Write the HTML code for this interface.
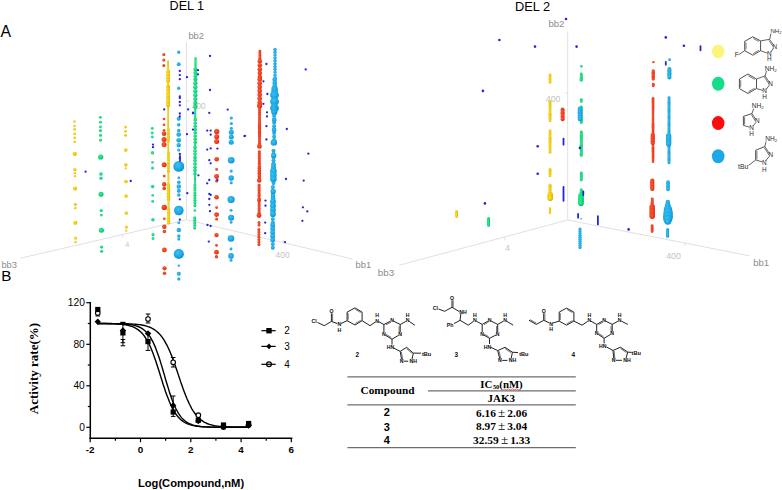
<!DOCTYPE html>
<html><head><meta charset="utf-8"><style>
html,body{margin:0;padding:0;background:#fff;width:782px;height:490px;overflow:hidden}
svg{display:block}
</style></head><body>
<svg width="782" height="490" viewBox="0 0 782 490">
<defs>
<radialGradient id="gY" cx="0.4" cy="0.38" r="0.65"><stop offset="0" stop-color="#ffe41c"/><stop offset="0.6" stop-color="#f2c800"/><stop offset="1" stop-color="#cfa200"/></radialGradient>
<radialGradient id="gG" cx="0.4" cy="0.38" r="0.65"><stop offset="0" stop-color="#34f09a"/><stop offset="0.6" stop-color="#10d97a"/><stop offset="1" stop-color="#08b862"/></radialGradient>
<radialGradient id="gR" cx="0.4" cy="0.38" r="0.65"><stop offset="0" stop-color="#ff5a36"/><stop offset="0.6" stop-color="#f03c1c"/><stop offset="1" stop-color="#d02c10"/></radialGradient>
<radialGradient id="gC" cx="0.42" cy="0.38" r="0.62"><stop offset="0" stop-color="#40bff0"/><stop offset="0.65" stop-color="#18a9e4"/><stop offset="1" stop-color="#0e90cc"/></radialGradient>
</defs>
<rect width="782" height="490" fill="#fff"/>
<text x="169.6" y="10.3" font-family="&quot;Liberation Sans&quot;, sans-serif" font-size="12.6" fill="#000" text-anchor="start" font-weight="normal" >DEL 1</text>
<text x="515" y="10.8" font-family="&quot;Liberation Sans&quot;, sans-serif" font-size="12.8" fill="#000" text-anchor="start" font-weight="normal" >DEL 2</text>
<text x="0.6" y="36.6" font-family="&quot;Liberation Sans&quot;, sans-serif" font-size="15.8" fill="#000" text-anchor="start" font-weight="normal" >A</text>
<text x="1.2" y="280.8" font-family="&quot;Liberation Sans&quot;, sans-serif" font-size="15.2" fill="#000" text-anchor="start" font-weight="normal" >B</text>
<text x="188.4" y="38.6" font-family="&quot;Liberation Sans&quot;, sans-serif" font-size="9.4" fill="#8c8c8c" text-anchor="start" font-weight="normal" >bb2</text>
<text x="1.4" y="267.6" font-family="&quot;Liberation Sans&quot;, sans-serif" font-size="9.4" fill="#8c8c8c" text-anchor="start" font-weight="normal" >bb3</text>
<text x="355.6" y="268.4" font-family="&quot;Liberation Sans&quot;, sans-serif" font-size="9.4" fill="#8c8c8c" text-anchor="start" font-weight="normal" >bb1</text>
<text x="125.2" y="247.3" font-family="&quot;Liberation Sans&quot;, sans-serif" font-size="7.2" fill="#c4c4c4" text-anchor="start" font-weight="normal" >4</text>
<text x="275.6" y="257.6" font-family="&quot;Liberation Sans&quot;, sans-serif" font-size="8.4" fill="#c4c4c4" text-anchor="start" font-weight="normal" >400</text>
<text x="191.8" y="109.2" font-family="&quot;Liberation Sans&quot;, sans-serif" font-size="8.4" fill="#c4c4c4" text-anchor="start" font-weight="normal" >400</text>
<text x="548.4" y="26.8" font-family="&quot;Liberation Sans&quot;, sans-serif" font-size="9.6" fill="#8c8c8c" text-anchor="start" font-weight="normal" >bb2</text>
<text x="377.8" y="275.9" font-family="&quot;Liberation Sans&quot;, sans-serif" font-size="9.9" fill="#8c8c8c" text-anchor="start" font-weight="normal" >bb3</text>
<text x="753.2" y="266.4" font-family="&quot;Liberation Sans&quot;, sans-serif" font-size="9.6" fill="#8c8c8c" text-anchor="start" font-weight="normal" >bb1</text>
<text x="505.2" y="251.3" font-family="&quot;Liberation Sans&quot;, sans-serif" font-size="8.2" fill="#c4c4c4" text-anchor="start" font-weight="normal" >4</text>
<text x="666.2" y="258.6" font-family="&quot;Liberation Sans&quot;, sans-serif" font-size="8.8" fill="#c4c4c4" text-anchor="start" font-weight="normal" >400</text>
<text x="545.8" y="102" font-family="&quot;Liberation Sans&quot;, sans-serif" font-size="8.8" fill="#c4c4c4" text-anchor="start" font-weight="normal" >400</text>
<line x1="186.5" y1="42.4" x2="186.5" y2="219.8" stroke="#e0e0e0" stroke-width="1"/>
<line x1="186.5" y1="219.8" x2="20.4" y2="258.2" stroke="#e0e0e0" stroke-width="1"/>
<line x1="186.5" y1="219.8" x2="352.6" y2="259" stroke="#e0e0e0" stroke-width="1"/>
<line x1="122.5" y1="234" x2="122.5" y2="237.5" stroke="#e0e0e0" stroke-width="1"/>
<line x1="283" y1="240" x2="283" y2="243.5" stroke="#e0e0e0" stroke-width="1"/>
<line x1="186.5" y1="101" x2="189.5" y2="101" stroke="#e0e0e0" stroke-width="1"/>
<line x1="567.7" y1="31.4" x2="567.7" y2="220" stroke="#e0e0e0" stroke-width="1"/>
<line x1="567.7" y1="220" x2="399.2" y2="265.2" stroke="#e0e0e0" stroke-width="1"/>
<line x1="567.7" y1="220" x2="749" y2="255.7" stroke="#e0e0e0" stroke-width="1"/>
<line x1="504.9" y1="237" x2="504.9" y2="240.5" stroke="#e0e0e0" stroke-width="1"/>
<line x1="684.9" y1="242.5" x2="684.9" y2="246" stroke="#e0e0e0" stroke-width="1"/>
<line x1="564.7" y1="93" x2="567.7" y2="93" stroke="#e0e0e0" stroke-width="1"/>
<circle cx="74.4" cy="121.4" r="1.20" fill="url(#gY)"/>
<circle cx="74.4" cy="126.0" r="1.20" fill="url(#gY)"/>
<circle cx="74.5" cy="129.3" r="1.30" fill="url(#gY)"/>
<circle cx="74.5" cy="133.7" r="1.30" fill="url(#gY)"/>
<circle cx="74.6" cy="137.8" r="1.30" fill="url(#gY)"/>
<circle cx="74.6" cy="141.8" r="1.20" fill="url(#gY)"/>
<circle cx="74.7" cy="153.8" r="2.10" fill="url(#gY)"/>
<circle cx="74.8" cy="169.6" r="1.70" fill="url(#gY)"/>
<circle cx="74.9" cy="172.9" r="1.20" fill="url(#gY)"/>
<circle cx="74.9" cy="176.1" r="1.20" fill="url(#gY)"/>
<circle cx="75.0" cy="188.5" r="2.00" fill="url(#gY)"/>
<circle cx="75.2" cy="204.2" r="1.50" fill="url(#gY)"/>
<circle cx="75.2" cy="208.0" r="1.20" fill="url(#gY)"/>
<circle cx="75.3" cy="222.8" r="2.00" fill="url(#gY)"/>
<circle cx="75.5" cy="238.0" r="1.50" fill="url(#gY)"/>
<circle cx="75.5" cy="242.0" r="1.20" fill="url(#gY)"/>
<circle cx="100.3" cy="117.3" r="1.40" fill="url(#gG)"/>
<circle cx="100.4" cy="122.2" r="1.40" fill="url(#gG)"/>
<circle cx="100.4" cy="126.8" r="1.40" fill="url(#gG)"/>
<circle cx="100.4" cy="130.4" r="1.50" fill="url(#gG)"/>
<circle cx="100.5" cy="135.3" r="1.50" fill="url(#gG)"/>
<circle cx="100.5" cy="139.9" r="1.50" fill="url(#gG)"/>
<circle cx="100.7" cy="157.0" r="2.60" fill="url(#gG)"/>
<circle cx="100.9" cy="174.0" r="1.80" fill="url(#gG)"/>
<circle cx="100.9" cy="178.2" r="1.60" fill="url(#gG)"/>
<circle cx="101.0" cy="194.2" r="2.50" fill="url(#gG)"/>
<circle cx="101.2" cy="210.5" r="1.60" fill="url(#gG)"/>
<circle cx="101.3" cy="215.1" r="1.40" fill="url(#gG)"/>
<circle cx="101.4" cy="230.3" r="2.50" fill="url(#gG)"/>
<circle cx="101.6" cy="247.0" r="1.60" fill="url(#gG)"/>
<circle cx="101.6" cy="251.2" r="1.50" fill="url(#gG)"/>
<circle cx="125.5" cy="127.1" r="1.30" fill="url(#gY)"/>
<circle cx="125.5" cy="131.2" r="1.30" fill="url(#gY)"/>
<circle cx="125.6" cy="135.3" r="1.40" fill="url(#gY)"/>
<circle cx="125.7" cy="150.0" r="1.80" fill="url(#gY)"/>
<circle cx="125.8" cy="164.7" r="1.70" fill="url(#gY)"/>
<circle cx="125.8" cy="168.3" r="1.10" fill="url(#gY)"/>
<circle cx="125.9" cy="181.5" r="1.80" fill="url(#gY)"/>
<circle cx="126.0" cy="196.0" r="1.70" fill="url(#gY)"/>
<circle cx="126.2" cy="213.0" r="1.70" fill="url(#gY)"/>
<circle cx="126.3" cy="227.0" r="1.50" fill="url(#gY)"/>
<circle cx="126.3" cy="230.6" r="1.10" fill="url(#gY)"/>
<circle cx="152.2" cy="128.3" r="1.40" fill="url(#gG)"/>
<circle cx="152.2" cy="132.9" r="1.40" fill="url(#gG)"/>
<circle cx="152.3" cy="136.9" r="1.40" fill="url(#gG)"/>
<circle cx="152.4" cy="152.8" r="1.70" fill="url(#gG)"/>
<circle cx="152.4" cy="162.2" r="1.20" fill="url(#gG)"/>
<circle cx="152.5" cy="168.0" r="1.50" fill="url(#gG)"/>
<circle cx="152.6" cy="186.5" r="1.70" fill="url(#gG)"/>
<circle cx="152.7" cy="195.2" r="1.30" fill="url(#gG)"/>
<circle cx="152.7" cy="201.3" r="1.40" fill="url(#gG)"/>
<circle cx="152.9" cy="219.7" r="1.70" fill="url(#gG)"/>
<circle cx="153.0" cy="234.4" r="1.50" fill="url(#gG)"/>
<circle cx="153.0" cy="238.5" r="1.40" fill="url(#gG)"/>
<circle cx="163.8" cy="54.4" r="1.50" fill="url(#gR)"/>
<circle cx="163.8" cy="59.9" r="1.50" fill="url(#gR)"/>
<circle cx="163.8" cy="65.6" r="1.50" fill="url(#gR)"/>
<circle cx="164.0" cy="119.0" r="1.30" fill="url(#gR)"/>
<circle cx="164.0" cy="124.7" r="1.30" fill="url(#gR)"/>
<circle cx="164.0" cy="130.4" r="1.40" fill="url(#gR)"/>
<circle cx="164.1" cy="133.7" r="2.30" fill="url(#gR)"/>
<circle cx="164.1" cy="139.4" r="2.50" fill="url(#gR)"/>
<circle cx="164.1" cy="144.6" r="2.50" fill="url(#gR)"/>
<circle cx="164.2" cy="164.7" r="2.50" fill="url(#gR)"/>
<circle cx="164.2" cy="176.1" r="1.40" fill="url(#gR)"/>
<circle cx="164.2" cy="184.3" r="2.20" fill="url(#gR)"/>
<circle cx="164.2" cy="188.4" r="1.80" fill="url(#gR)"/>
<circle cx="164.3" cy="207.4" r="2.70" fill="url(#gR)"/>
<circle cx="164.3" cy="218.7" r="1.30" fill="url(#gR)"/>
<circle cx="164.3" cy="226.8" r="2.20" fill="url(#gR)"/>
<circle cx="164.4" cy="231.5" r="1.70" fill="url(#gR)"/>
<circle cx="164.4" cy="249.9" r="2.40" fill="url(#gR)"/>
<circle cx="164.5" cy="268.3" r="2.10" fill="url(#gR)"/>
<circle cx="164.5" cy="273.2" r="1.70" fill="url(#gR)"/>
<circle cx="168.0" cy="61.2" r="0.90" fill="url(#gY)"/>
<circle cx="168.0" cy="62.3" r="0.90" fill="url(#gY)"/>
<circle cx="168.0" cy="63.3" r="0.90" fill="url(#gY)"/>
<circle cx="168.0" cy="64.4" r="0.90" fill="url(#gY)"/>
<circle cx="168.0" cy="65.4" r="0.90" fill="url(#gY)"/>
<circle cx="168.0" cy="66.5" r="0.90" fill="url(#gY)"/>
<circle cx="168.0" cy="67.6" r="0.90" fill="url(#gY)"/>
<circle cx="168.0" cy="68.6" r="0.90" fill="url(#gY)"/>
<circle cx="168.0" cy="69.7" r="0.90" fill="url(#gY)"/>
<circle cx="168.0" cy="70.7" r="0.90" fill="url(#gY)"/>
<circle cx="168.0" cy="71.8" r="0.90" fill="url(#gY)"/>
<circle cx="168.1" cy="71.8" r="2.00" fill="url(#gY)"/>
<circle cx="168.1" cy="74.8" r="2.00" fill="url(#gY)"/>
<circle cx="168.1" cy="77.8" r="2.00" fill="url(#gY)"/>
<circle cx="168.1" cy="80.8" r="2.00" fill="url(#gY)"/>
<circle cx="168.1" cy="80.8" r="0.90" fill="url(#gY)"/>
<circle cx="168.1" cy="81.8" r="0.90" fill="url(#gY)"/>
<circle cx="168.1" cy="82.7" r="0.90" fill="url(#gY)"/>
<circle cx="168.1" cy="83.7" r="0.90" fill="url(#gY)"/>
<circle cx="168.1" cy="84.6" r="0.90" fill="url(#gY)"/>
<circle cx="168.1" cy="85.5" r="0.90" fill="url(#gY)"/>
<circle cx="168.1" cy="86.5" r="0.90" fill="url(#gY)"/>
<circle cx="168.1" cy="86.5" r="2.00" fill="url(#gY)"/>
<circle cx="168.1" cy="89.6" r="2.00" fill="url(#gY)"/>
<circle cx="168.1" cy="92.8" r="2.00" fill="url(#gY)"/>
<circle cx="168.1" cy="95.9" r="2.00" fill="url(#gY)"/>
<circle cx="168.1" cy="99.0" r="2.00" fill="url(#gY)"/>
<circle cx="168.1" cy="102.2" r="2.00" fill="url(#gY)"/>
<circle cx="168.1" cy="105.3" r="2.00" fill="url(#gY)"/>
<circle cx="168.2" cy="105.3" r="0.90" fill="url(#gY)"/>
<circle cx="168.2" cy="106.4" r="0.90" fill="url(#gY)"/>
<circle cx="168.2" cy="107.4" r="0.90" fill="url(#gY)"/>
<circle cx="168.2" cy="108.5" r="0.90" fill="url(#gY)"/>
<circle cx="168.2" cy="109.5" r="0.90" fill="url(#gY)"/>
<circle cx="168.2" cy="110.6" r="0.90" fill="url(#gY)"/>
<circle cx="168.2" cy="111.6" r="0.90" fill="url(#gY)"/>
<circle cx="168.2" cy="112.7" r="0.90" fill="url(#gY)"/>
<circle cx="168.2" cy="113.8" r="0.90" fill="url(#gY)"/>
<circle cx="168.2" cy="114.8" r="0.90" fill="url(#gY)"/>
<circle cx="168.2" cy="115.9" r="0.90" fill="url(#gY)"/>
<circle cx="168.2" cy="116.9" r="0.90" fill="url(#gY)"/>
<circle cx="168.2" cy="118.0" r="0.90" fill="url(#gY)"/>
<circle cx="168.2" cy="119.0" r="0.90" fill="url(#gY)"/>
<circle cx="168.2" cy="120.1" r="0.90" fill="url(#gY)"/>
<circle cx="168.2" cy="121.1" r="0.90" fill="url(#gY)"/>
<circle cx="168.2" cy="122.2" r="0.90" fill="url(#gY)"/>
<circle cx="168.2" cy="123.3" r="0.90" fill="url(#gY)"/>
<circle cx="168.2" cy="124.3" r="0.90" fill="url(#gY)"/>
<circle cx="168.2" cy="125.4" r="0.90" fill="url(#gY)"/>
<circle cx="168.2" cy="126.4" r="0.90" fill="url(#gY)"/>
<circle cx="168.2" cy="127.5" r="0.90" fill="url(#gY)"/>
<circle cx="168.2" cy="128.5" r="0.90" fill="url(#gY)"/>
<circle cx="168.2" cy="129.6" r="0.90" fill="url(#gY)"/>
<circle cx="168.3" cy="129.6" r="1.50" fill="url(#gY)"/>
<circle cx="168.3" cy="131.9" r="1.50" fill="url(#gY)"/>
<circle cx="168.3" cy="134.2" r="1.50" fill="url(#gY)"/>
<circle cx="168.3" cy="136.4" r="1.50" fill="url(#gY)"/>
<circle cx="168.3" cy="138.7" r="1.50" fill="url(#gY)"/>
<circle cx="168.3" cy="141.0" r="1.50" fill="url(#gY)"/>
<circle cx="168.3" cy="141.0" r="0.90" fill="url(#gY)"/>
<circle cx="168.3" cy="142.0" r="0.90" fill="url(#gY)"/>
<circle cx="168.3" cy="143.1" r="0.90" fill="url(#gY)"/>
<circle cx="168.3" cy="144.1" r="0.90" fill="url(#gY)"/>
<circle cx="168.3" cy="145.1" r="0.90" fill="url(#gY)"/>
<circle cx="168.3" cy="146.2" r="0.90" fill="url(#gY)"/>
<circle cx="168.3" cy="147.2" r="0.90" fill="url(#gY)"/>
<circle cx="168.3" cy="148.3" r="0.90" fill="url(#gY)"/>
<circle cx="168.3" cy="149.3" r="0.90" fill="url(#gY)"/>
<circle cx="168.3" cy="150.3" r="0.90" fill="url(#gY)"/>
<circle cx="168.3" cy="151.4" r="0.90" fill="url(#gY)"/>
<circle cx="168.3" cy="152.4" r="0.90" fill="url(#gY)"/>
<circle cx="168.4" cy="152.4" r="1.50" fill="url(#gY)"/>
<circle cx="168.4" cy="155.0" r="1.50" fill="url(#gY)"/>
<circle cx="168.4" cy="157.5" r="1.50" fill="url(#gY)"/>
<circle cx="168.4" cy="160.1" r="1.50" fill="url(#gY)"/>
<circle cx="168.4" cy="162.7" r="1.50" fill="url(#gY)"/>
<circle cx="168.4" cy="165.3" r="1.50" fill="url(#gY)"/>
<circle cx="168.4" cy="167.8" r="1.50" fill="url(#gY)"/>
<circle cx="168.4" cy="170.4" r="1.50" fill="url(#gY)"/>
<circle cx="168.4" cy="170.4" r="0.90" fill="url(#gY)"/>
<circle cx="168.4" cy="171.4" r="0.90" fill="url(#gY)"/>
<circle cx="168.4" cy="172.5" r="0.90" fill="url(#gY)"/>
<circle cx="168.4" cy="173.5" r="0.90" fill="url(#gY)"/>
<circle cx="168.4" cy="174.6" r="0.90" fill="url(#gY)"/>
<circle cx="168.4" cy="175.6" r="0.90" fill="url(#gY)"/>
<circle cx="168.4" cy="176.7" r="0.90" fill="url(#gY)"/>
<circle cx="168.4" cy="177.7" r="0.90" fill="url(#gY)"/>
<circle cx="168.4" cy="178.7" r="0.90" fill="url(#gY)"/>
<circle cx="168.4" cy="179.8" r="0.90" fill="url(#gY)"/>
<circle cx="168.4" cy="180.8" r="0.90" fill="url(#gY)"/>
<circle cx="168.4" cy="181.9" r="0.90" fill="url(#gY)"/>
<circle cx="168.4" cy="182.9" r="0.90" fill="url(#gY)"/>
<circle cx="168.4" cy="184.0" r="0.90" fill="url(#gY)"/>
<circle cx="168.4" cy="185.0" r="0.90" fill="url(#gY)"/>
<circle cx="168.5" cy="185.0" r="1.80" fill="url(#gY)"/>
<circle cx="168.5" cy="187.8" r="1.80" fill="url(#gY)"/>
<circle cx="168.5" cy="190.6" r="1.80" fill="url(#gY)"/>
<circle cx="168.5" cy="193.4" r="1.80" fill="url(#gY)"/>
<circle cx="168.5" cy="196.2" r="1.80" fill="url(#gY)"/>
<circle cx="168.5" cy="199.0" r="1.80" fill="url(#gY)"/>
<circle cx="168.5" cy="199.0" r="0.90" fill="url(#gY)"/>
<circle cx="168.5" cy="200.0" r="0.90" fill="url(#gY)"/>
<circle cx="168.5" cy="201.0" r="0.90" fill="url(#gY)"/>
<circle cx="168.5" cy="202.0" r="0.90" fill="url(#gY)"/>
<circle cx="168.5" cy="203.0" r="0.90" fill="url(#gY)"/>
<circle cx="168.5" cy="204.0" r="0.90" fill="url(#gY)"/>
<circle cx="168.5" cy="205.0" r="0.90" fill="url(#gY)"/>
<circle cx="168.5" cy="206.0" r="0.90" fill="url(#gY)"/>
<circle cx="168.5" cy="207.0" r="0.90" fill="url(#gY)"/>
<circle cx="168.5" cy="208.0" r="0.90" fill="url(#gY)"/>
<circle cx="168.5" cy="209.0" r="0.90" fill="url(#gY)"/>
<circle cx="168.5" cy="210.0" r="0.90" fill="url(#gY)"/>
<circle cx="168.6" cy="210.0" r="1.70" fill="url(#gY)"/>
<circle cx="168.6" cy="212.6" r="1.70" fill="url(#gY)"/>
<circle cx="168.6" cy="215.1" r="1.70" fill="url(#gY)"/>
<circle cx="168.6" cy="217.7" r="1.70" fill="url(#gY)"/>
<circle cx="168.6" cy="220.2" r="1.70" fill="url(#gY)"/>
<circle cx="168.6" cy="222.8" r="1.70" fill="url(#gY)"/>
<circle cx="178.7" cy="52.2" r="1.60" fill="url(#gC)"/>
<circle cx="178.7" cy="64.2" r="1.90" fill="url(#gC)"/>
<circle cx="178.7" cy="88.2" r="1.60" fill="url(#gC)"/>
<circle cx="178.7" cy="118.7" r="2.00" fill="url(#gC)"/>
<circle cx="178.7" cy="124.7" r="1.70" fill="url(#gC)"/>
<circle cx="178.7" cy="130.4" r="1.70" fill="url(#gC)"/>
<circle cx="178.7" cy="134.5" r="2.30" fill="url(#gC)"/>
<circle cx="178.7" cy="140.2" r="2.30" fill="url(#gC)"/>
<circle cx="178.7" cy="145.1" r="2.20" fill="url(#gC)"/>
<circle cx="178.7" cy="150.0" r="1.50" fill="url(#gC)"/>
<circle cx="178.8" cy="166.4" r="5.45" fill="url(#gC)"/>
<circle cx="178.8" cy="177.8" r="1.40" fill="url(#gC)"/>
<circle cx="178.8" cy="182.3" r="1.80" fill="url(#gC)"/>
<circle cx="178.8" cy="186.5" r="2.20" fill="url(#gC)"/>
<circle cx="178.8" cy="190.7" r="2.00" fill="url(#gC)"/>
<circle cx="178.8" cy="195.0" r="1.70" fill="url(#gC)"/>
<circle cx="178.8" cy="210.5" r="4.80" fill="url(#gC)"/>
<circle cx="178.8" cy="222.8" r="1.40" fill="url(#gC)"/>
<circle cx="178.8" cy="229.9" r="2.20" fill="url(#gC)"/>
<circle cx="178.8" cy="236.0" r="1.70" fill="url(#gC)"/>
<circle cx="178.8" cy="239.0" r="1.50" fill="url(#gC)"/>
<circle cx="178.8" cy="254.0" r="5.10" fill="url(#gC)"/>
<circle cx="178.8" cy="265.6" r="1.20" fill="url(#gC)"/>
<circle cx="178.8" cy="273.8" r="2.00" fill="url(#gC)"/>
<circle cx="178.8" cy="278.9" r="1.60" fill="url(#gC)"/>
<circle cx="195.5" cy="58.0" r="1.10" fill="url(#gG)"/>
<circle cx="195.5" cy="59.3" r="1.10" fill="url(#gG)"/>
<circle cx="195.5" cy="60.5" r="1.10" fill="url(#gG)"/>
<circle cx="195.5" cy="61.8" r="1.10" fill="url(#gG)"/>
<circle cx="195.5" cy="63.1" r="1.10" fill="url(#gG)"/>
<circle cx="195.5" cy="64.3" r="1.10" fill="url(#gG)"/>
<circle cx="195.5" cy="65.6" r="1.10" fill="url(#gG)"/>
<circle cx="195.5" cy="66.9" r="1.10" fill="url(#gG)"/>
<circle cx="195.5" cy="68.1" r="1.10" fill="url(#gG)"/>
<circle cx="195.5" cy="69.4" r="1.10" fill="url(#gG)"/>
<circle cx="195.4" cy="69.4" r="2.00" fill="url(#gG)"/>
<circle cx="195.4" cy="72.7" r="2.00" fill="url(#gG)"/>
<circle cx="195.4" cy="75.9" r="2.00" fill="url(#gG)"/>
<circle cx="195.4" cy="79.2" r="2.00" fill="url(#gG)"/>
<circle cx="195.4" cy="79.2" r="1.10" fill="url(#gG)"/>
<circle cx="195.4" cy="80.2" r="1.10" fill="url(#gG)"/>
<circle cx="195.4" cy="81.2" r="1.10" fill="url(#gG)"/>
<circle cx="195.4" cy="82.3" r="1.10" fill="url(#gG)"/>
<circle cx="195.4" cy="83.3" r="1.10" fill="url(#gG)"/>
<circle cx="195.3" cy="83.3" r="2.15" fill="url(#gG)"/>
<circle cx="195.3" cy="87.2" r="2.15" fill="url(#gG)"/>
<circle cx="195.3" cy="91.2" r="2.15" fill="url(#gG)"/>
<circle cx="195.3" cy="95.2" r="2.15" fill="url(#gG)"/>
<circle cx="195.3" cy="99.1" r="2.15" fill="url(#gG)"/>
<circle cx="195.3" cy="103.0" r="2.15" fill="url(#gG)"/>
<circle cx="195.3" cy="107.0" r="2.15" fill="url(#gG)"/>
<circle cx="195.2" cy="107.0" r="1.10" fill="url(#gG)"/>
<circle cx="195.2" cy="108.3" r="1.10" fill="url(#gG)"/>
<circle cx="195.2" cy="109.6" r="1.10" fill="url(#gG)"/>
<circle cx="195.2" cy="110.8" r="1.10" fill="url(#gG)"/>
<circle cx="195.2" cy="112.1" r="1.10" fill="url(#gG)"/>
<circle cx="195.2" cy="113.4" r="1.10" fill="url(#gG)"/>
<circle cx="195.2" cy="114.7" r="1.10" fill="url(#gG)"/>
<circle cx="195.2" cy="116.0" r="1.10" fill="url(#gG)"/>
<circle cx="195.2" cy="117.2" r="1.10" fill="url(#gG)"/>
<circle cx="195.2" cy="118.5" r="1.10" fill="url(#gG)"/>
<circle cx="195.2" cy="119.8" r="1.10" fill="url(#gG)"/>
<circle cx="195.2" cy="119.8" r="1.80" fill="url(#gG)"/>
<circle cx="195.2" cy="123.1" r="1.80" fill="url(#gG)"/>
<circle cx="195.2" cy="126.3" r="1.80" fill="url(#gG)"/>
<circle cx="195.2" cy="129.6" r="1.80" fill="url(#gG)"/>
<circle cx="195.2" cy="132.8" r="1.80" fill="url(#gG)"/>
<circle cx="195.2" cy="136.1" r="1.80" fill="url(#gG)"/>
<circle cx="195.2" cy="139.3" r="1.80" fill="url(#gG)"/>
<circle cx="195.2" cy="142.6" r="1.80" fill="url(#gG)"/>
<circle cx="195.1" cy="142.6" r="1.10" fill="url(#gG)"/>
<circle cx="195.1" cy="143.8" r="1.10" fill="url(#gG)"/>
<circle cx="195.1" cy="145.1" r="1.10" fill="url(#gG)"/>
<circle cx="195.1" cy="146.3" r="1.10" fill="url(#gG)"/>
<circle cx="195.1" cy="147.6" r="1.10" fill="url(#gG)"/>
<circle cx="195.0" cy="147.6" r="1.80" fill="url(#gG)"/>
<circle cx="195.0" cy="150.9" r="1.80" fill="url(#gG)"/>
<circle cx="195.0" cy="154.1" r="1.80" fill="url(#gG)"/>
<circle cx="195.0" cy="157.4" r="1.80" fill="url(#gG)"/>
<circle cx="195.0" cy="160.6" r="1.80" fill="url(#gG)"/>
<circle cx="195.0" cy="163.9" r="1.80" fill="url(#gG)"/>
<circle cx="195.0" cy="167.2" r="1.80" fill="url(#gG)"/>
<circle cx="195.0" cy="170.4" r="1.80" fill="url(#gG)"/>
<circle cx="195.0" cy="173.7" r="1.80" fill="url(#gG)"/>
<circle cx="194.9" cy="173.7" r="1.00" fill="url(#gG)"/>
<circle cx="194.9" cy="174.8" r="1.00" fill="url(#gG)"/>
<circle cx="194.9" cy="176.0" r="1.00" fill="url(#gG)"/>
<circle cx="194.9" cy="177.1" r="1.00" fill="url(#gG)"/>
<circle cx="194.9" cy="178.2" r="1.00" fill="url(#gG)"/>
<circle cx="194.9" cy="179.3" r="1.00" fill="url(#gG)"/>
<circle cx="194.9" cy="180.5" r="1.00" fill="url(#gG)"/>
<circle cx="194.9" cy="181.6" r="1.00" fill="url(#gG)"/>
<circle cx="194.9" cy="182.7" r="1.00" fill="url(#gG)"/>
<circle cx="194.9" cy="183.9" r="1.00" fill="url(#gG)"/>
<circle cx="194.9" cy="185.0" r="1.00" fill="url(#gG)"/>
<circle cx="194.9" cy="185.0" r="1.50" fill="url(#gG)"/>
<circle cx="194.9" cy="187.6" r="1.50" fill="url(#gG)"/>
<circle cx="194.9" cy="190.1" r="1.50" fill="url(#gG)"/>
<circle cx="194.9" cy="192.7" r="1.50" fill="url(#gG)"/>
<circle cx="194.9" cy="195.2" r="1.50" fill="url(#gG)"/>
<circle cx="194.9" cy="197.8" r="1.50" fill="url(#gG)"/>
<circle cx="194.9" cy="200.3" r="1.50" fill="url(#gG)"/>
<circle cx="194.9" cy="202.8" r="1.50" fill="url(#gG)"/>
<circle cx="194.9" cy="205.4" r="1.50" fill="url(#gG)"/>
<circle cx="194.8" cy="210.5" r="1.30" fill="url(#gG)"/>
<circle cx="194.7" cy="217.7" r="1.50" fill="url(#gG)"/>
<circle cx="194.7" cy="220.2" r="1.50" fill="url(#gG)"/>
<circle cx="194.7" cy="222.8" r="1.50" fill="url(#gG)"/>
<circle cx="194.7" cy="225.3" r="1.50" fill="url(#gG)"/>
<circle cx="194.7" cy="227.9" r="1.50" fill="url(#gG)"/>
<circle cx="216.7" cy="131.6" r="2.70" fill="url(#gR)"/>
<circle cx="216.7" cy="136.7" r="2.50" fill="url(#gR)"/>
<circle cx="216.7" cy="141.4" r="2.50" fill="url(#gR)"/>
<circle cx="216.7" cy="159.2" r="2.30" fill="url(#gR)"/>
<circle cx="216.6" cy="169.4" r="1.40" fill="url(#gR)"/>
<circle cx="216.6" cy="176.5" r="2.40" fill="url(#gR)"/>
<circle cx="216.6" cy="181.0" r="1.50" fill="url(#gR)"/>
<circle cx="216.6" cy="197.3" r="2.30" fill="url(#gR)"/>
<circle cx="216.6" cy="207.6" r="1.40" fill="url(#gR)"/>
<circle cx="216.6" cy="214.6" r="2.40" fill="url(#gR)"/>
<circle cx="216.6" cy="219.0" r="1.50" fill="url(#gR)"/>
<circle cx="216.5" cy="235.1" r="2.20" fill="url(#gR)"/>
<circle cx="216.5" cy="245.3" r="1.40" fill="url(#gR)"/>
<circle cx="216.5" cy="252.2" r="2.40" fill="url(#gR)"/>
<circle cx="216.5" cy="256.8" r="1.70" fill="url(#gR)"/>
<circle cx="231.3" cy="118.0" r="1.50" fill="url(#gC)"/>
<circle cx="231.3" cy="123.5" r="1.50" fill="url(#gC)"/>
<circle cx="231.3" cy="128.2" r="1.50" fill="url(#gC)"/>
<circle cx="231.3" cy="132.2" r="2.50" fill="url(#gC)"/>
<circle cx="231.3" cy="137.1" r="2.50" fill="url(#gC)"/>
<circle cx="231.2" cy="142.2" r="2.50" fill="url(#gC)"/>
<circle cx="231.2" cy="160.2" r="3.30" fill="url(#gC)"/>
<circle cx="231.2" cy="171.0" r="1.50" fill="url(#gC)"/>
<circle cx="231.2" cy="178.0" r="2.70" fill="url(#gC)"/>
<circle cx="231.2" cy="182.7" r="1.50" fill="url(#gC)"/>
<circle cx="231.1" cy="199.5" r="3.60" fill="url(#gC)"/>
<circle cx="231.1" cy="210.3" r="1.40" fill="url(#gC)"/>
<circle cx="231.1" cy="217.7" r="3.00" fill="url(#gC)"/>
<circle cx="231.1" cy="222.3" r="1.40" fill="url(#gC)"/>
<circle cx="231.0" cy="238.5" r="3.30" fill="url(#gC)"/>
<circle cx="231.0" cy="249.0" r="1.40" fill="url(#gC)"/>
<circle cx="231.0" cy="255.9" r="2.80" fill="url(#gC)"/>
<circle cx="231.0" cy="260.3" r="1.40" fill="url(#gC)"/>
<circle cx="259.9" cy="51.1" r="1.40" fill="url(#gR)"/>
<circle cx="259.9" cy="52.6" r="1.40" fill="url(#gR)"/>
<circle cx="259.9" cy="54.0" r="1.40" fill="url(#gR)"/>
<circle cx="259.9" cy="55.5" r="1.40" fill="url(#gR)"/>
<circle cx="259.9" cy="56.9" r="1.40" fill="url(#gR)"/>
<circle cx="259.9" cy="58.4" r="1.40" fill="url(#gR)"/>
<circle cx="259.9" cy="59.8" r="1.40" fill="url(#gR)"/>
<circle cx="259.9" cy="61.3" r="1.40" fill="url(#gR)"/>
<circle cx="259.8" cy="61.3" r="2.25" fill="url(#gR)"/>
<circle cx="259.8" cy="65.2" r="2.25" fill="url(#gR)"/>
<circle cx="259.8" cy="69.2" r="2.25" fill="url(#gR)"/>
<circle cx="259.8" cy="73.1" r="2.25" fill="url(#gR)"/>
<circle cx="259.8" cy="77.0" r="2.25" fill="url(#gR)"/>
<circle cx="259.8" cy="77.0" r="1.50" fill="url(#gR)"/>
<circle cx="259.8" cy="78.2" r="1.50" fill="url(#gR)"/>
<circle cx="259.8" cy="79.5" r="1.50" fill="url(#gR)"/>
<circle cx="259.7" cy="79.5" r="2.35" fill="url(#gR)"/>
<circle cx="259.7" cy="83.3" r="2.35" fill="url(#gR)"/>
<circle cx="259.7" cy="87.1" r="2.35" fill="url(#gR)"/>
<circle cx="259.7" cy="90.9" r="2.35" fill="url(#gR)"/>
<circle cx="259.7" cy="94.8" r="2.35" fill="url(#gR)"/>
<circle cx="259.7" cy="98.6" r="2.35" fill="url(#gR)"/>
<circle cx="259.7" cy="102.4" r="2.35" fill="url(#gR)"/>
<circle cx="259.7" cy="106.2" r="2.35" fill="url(#gR)"/>
<circle cx="259.6" cy="105.5" r="2.50" fill="url(#gR)"/>
<circle cx="259.5" cy="107.0" r="1.45" fill="url(#gR)"/>
<circle cx="259.5" cy="108.7" r="1.45" fill="url(#gR)"/>
<circle cx="259.5" cy="110.5" r="1.45" fill="url(#gR)"/>
<circle cx="259.5" cy="112.2" r="1.45" fill="url(#gR)"/>
<circle cx="259.5" cy="113.9" r="1.45" fill="url(#gR)"/>
<circle cx="259.5" cy="115.6" r="1.45" fill="url(#gR)"/>
<circle cx="259.5" cy="117.4" r="1.45" fill="url(#gR)"/>
<circle cx="259.5" cy="119.1" r="1.45" fill="url(#gR)"/>
<circle cx="259.5" cy="120.8" r="1.45" fill="url(#gR)"/>
<circle cx="259.5" cy="122.5" r="1.45" fill="url(#gR)"/>
<circle cx="259.5" cy="124.3" r="1.45" fill="url(#gR)"/>
<circle cx="259.5" cy="126.0" r="1.45" fill="url(#gR)"/>
<circle cx="259.5" cy="127.7" r="1.45" fill="url(#gR)"/>
<circle cx="259.5" cy="129.5" r="1.45" fill="url(#gR)"/>
<circle cx="259.5" cy="131.2" r="1.45" fill="url(#gR)"/>
<circle cx="259.5" cy="132.9" r="1.45" fill="url(#gR)"/>
<circle cx="259.5" cy="134.6" r="1.45" fill="url(#gR)"/>
<circle cx="259.5" cy="136.4" r="1.45" fill="url(#gR)"/>
<circle cx="259.5" cy="138.1" r="1.45" fill="url(#gR)"/>
<circle cx="259.5" cy="139.8" r="1.45" fill="url(#gR)"/>
<circle cx="259.5" cy="141.5" r="1.45" fill="url(#gR)"/>
<circle cx="259.5" cy="143.3" r="1.45" fill="url(#gR)"/>
<circle cx="259.5" cy="145.0" r="1.45" fill="url(#gR)"/>
<circle cx="259.5" cy="125.0" r="1.65" fill="url(#gR)"/>
<circle cx="259.5" cy="127.5" r="1.65" fill="url(#gR)"/>
<circle cx="259.5" cy="130.0" r="1.65" fill="url(#gR)"/>
<circle cx="259.5" cy="132.5" r="1.65" fill="url(#gR)"/>
<circle cx="259.5" cy="135.0" r="1.65" fill="url(#gR)"/>
<circle cx="259.4" cy="146.4" r="2.40" fill="url(#gR)"/>
<circle cx="259.3" cy="151.6" r="1.45" fill="url(#gR)"/>
<circle cx="259.3" cy="153.3" r="1.45" fill="url(#gR)"/>
<circle cx="259.3" cy="154.9" r="1.45" fill="url(#gR)"/>
<circle cx="259.3" cy="156.6" r="1.45" fill="url(#gR)"/>
<circle cx="259.3" cy="158.3" r="1.45" fill="url(#gR)"/>
<circle cx="259.3" cy="160.0" r="1.45" fill="url(#gR)"/>
<circle cx="259.3" cy="161.6" r="1.45" fill="url(#gR)"/>
<circle cx="259.3" cy="163.3" r="1.45" fill="url(#gR)"/>
<circle cx="259.3" cy="165.0" r="1.45" fill="url(#gR)"/>
<circle cx="259.3" cy="166.6" r="1.45" fill="url(#gR)"/>
<circle cx="259.3" cy="168.3" r="1.45" fill="url(#gR)"/>
<circle cx="259.3" cy="170.0" r="1.45" fill="url(#gR)"/>
<circle cx="259.3" cy="171.6" r="1.45" fill="url(#gR)"/>
<circle cx="259.3" cy="173.3" r="1.45" fill="url(#gR)"/>
<circle cx="259.3" cy="175.0" r="1.45" fill="url(#gR)"/>
<circle cx="259.3" cy="176.7" r="1.45" fill="url(#gR)"/>
<circle cx="259.3" cy="178.3" r="1.45" fill="url(#gR)"/>
<circle cx="259.3" cy="180.0" r="1.45" fill="url(#gR)"/>
<circle cx="259.3" cy="168.0" r="1.80" fill="url(#gR)"/>
<circle cx="259.3" cy="170.7" r="1.80" fill="url(#gR)"/>
<circle cx="259.3" cy="173.3" r="1.80" fill="url(#gR)"/>
<circle cx="259.3" cy="176.0" r="1.80" fill="url(#gR)"/>
<circle cx="259.2" cy="180.5" r="2.30" fill="url(#gR)"/>
<circle cx="259.1" cy="185.3" r="1.45" fill="url(#gR)"/>
<circle cx="259.1" cy="187.0" r="1.45" fill="url(#gR)"/>
<circle cx="259.1" cy="188.6" r="1.45" fill="url(#gR)"/>
<circle cx="259.1" cy="190.2" r="1.45" fill="url(#gR)"/>
<circle cx="259.1" cy="191.9" r="1.45" fill="url(#gR)"/>
<circle cx="259.1" cy="193.6" r="1.45" fill="url(#gR)"/>
<circle cx="259.1" cy="195.2" r="1.45" fill="url(#gR)"/>
<circle cx="259.1" cy="196.8" r="1.45" fill="url(#gR)"/>
<circle cx="259.1" cy="198.5" r="1.45" fill="url(#gR)"/>
<circle cx="259.1" cy="200.2" r="1.45" fill="url(#gR)"/>
<circle cx="259.1" cy="201.8" r="1.45" fill="url(#gR)"/>
<circle cx="259.1" cy="203.4" r="1.45" fill="url(#gR)"/>
<circle cx="259.1" cy="205.1" r="1.45" fill="url(#gR)"/>
<circle cx="259.1" cy="206.8" r="1.45" fill="url(#gR)"/>
<circle cx="259.1" cy="208.4" r="1.45" fill="url(#gR)"/>
<circle cx="259.1" cy="210.1" r="1.45" fill="url(#gR)"/>
<circle cx="259.1" cy="211.7" r="1.45" fill="url(#gR)"/>
<circle cx="259.1" cy="213.3" r="1.45" fill="url(#gR)"/>
<circle cx="259.1" cy="215.0" r="1.45" fill="url(#gR)"/>
<circle cx="259.1" cy="200.0" r="1.90" fill="url(#gR)"/>
<circle cx="259.0" cy="215.5" r="2.40" fill="url(#gR)"/>
<circle cx="259.0" cy="222.6" r="1.50" fill="url(#gR)"/>
<circle cx="259.0" cy="225.0" r="1.50" fill="url(#gR)"/>
<circle cx="258.9" cy="229.5" r="1.50" fill="url(#gR)"/>
<circle cx="258.9" cy="232.0" r="1.50" fill="url(#gR)"/>
<circle cx="258.9" cy="234.5" r="1.50" fill="url(#gR)"/>
<circle cx="258.9" cy="236.9" r="1.50" fill="url(#gR)"/>
<circle cx="258.9" cy="239.4" r="1.50" fill="url(#gR)"/>
<circle cx="258.9" cy="241.9" r="1.50" fill="url(#gR)"/>
<circle cx="258.9" cy="244.4" r="1.50" fill="url(#gR)"/>
<circle cx="275.0" cy="49.5" r="1.70" fill="url(#gC)"/>
<circle cx="275.0" cy="52.3" r="1.70" fill="url(#gC)"/>
<circle cx="275.0" cy="55.1" r="1.70" fill="url(#gC)"/>
<circle cx="275.0" cy="58.0" r="1.70" fill="url(#gC)"/>
<circle cx="275.0" cy="60.8" r="1.70" fill="url(#gC)"/>
<circle cx="275.0" cy="63.6" r="1.70" fill="url(#gC)"/>
<circle cx="275.0" cy="66.4" r="1.70" fill="url(#gC)"/>
<circle cx="275.0" cy="69.2" r="1.70" fill="url(#gC)"/>
<circle cx="275.0" cy="72.1" r="1.70" fill="url(#gC)"/>
<circle cx="275.0" cy="74.9" r="1.70" fill="url(#gC)"/>
<circle cx="275.0" cy="77.7" r="1.70" fill="url(#gC)"/>
<circle cx="274.7" cy="79.5" r="2.30" fill="url(#gC)"/>
<circle cx="274.7" cy="82.7" r="2.30" fill="url(#gC)"/>
<circle cx="274.7" cy="85.8" r="2.30" fill="url(#gC)"/>
<circle cx="274.7" cy="89.0" r="2.30" fill="url(#gC)"/>
<circle cx="274.6" cy="89.0" r="3.20" fill="url(#gC)"/>
<circle cx="274.6" cy="92.0" r="3.20" fill="url(#gC)"/>
<circle cx="274.6" cy="95.0" r="3.20" fill="url(#gC)"/>
<circle cx="274.5" cy="95.0" r="4.40" fill="url(#gC)"/>
<circle cx="274.5" cy="101.5" r="4.40" fill="url(#gC)"/>
<circle cx="274.5" cy="108.0" r="4.40" fill="url(#gC)"/>
<circle cx="274.3" cy="108.0" r="3.00" fill="url(#gC)"/>
<circle cx="274.3" cy="110.2" r="3.00" fill="url(#gC)"/>
<circle cx="274.3" cy="112.3" r="3.00" fill="url(#gC)"/>
<circle cx="274.1" cy="112.3" r="1.90" fill="url(#gC)"/>
<circle cx="274.1" cy="115.8" r="1.90" fill="url(#gC)"/>
<circle cx="274.1" cy="119.2" r="1.90" fill="url(#gC)"/>
<circle cx="274.1" cy="122.7" r="1.90" fill="url(#gC)"/>
<circle cx="274.1" cy="126.2" r="1.90" fill="url(#gC)"/>
<circle cx="274.1" cy="129.6" r="1.90" fill="url(#gC)"/>
<circle cx="274.1" cy="133.1" r="1.90" fill="url(#gC)"/>
<circle cx="274.1" cy="136.5" r="1.90" fill="url(#gC)"/>
<circle cx="274.1" cy="140.0" r="1.90" fill="url(#gC)"/>
<circle cx="274.2" cy="120.0" r="2.40" fill="url(#gC)"/>
<circle cx="274.1" cy="130.0" r="2.40" fill="url(#gC)"/>
<circle cx="273.9" cy="142.4" r="3.20" fill="url(#gC)"/>
<circle cx="273.5" cy="150.6" r="1.95" fill="url(#gC)"/>
<circle cx="273.5" cy="153.8" r="1.95" fill="url(#gC)"/>
<circle cx="273.5" cy="157.1" r="1.95" fill="url(#gC)"/>
<circle cx="273.5" cy="160.3" r="1.95" fill="url(#gC)"/>
<circle cx="273.5" cy="163.6" r="1.95" fill="url(#gC)"/>
<circle cx="273.5" cy="166.8" r="1.95" fill="url(#gC)"/>
<circle cx="273.5" cy="170.0" r="1.95" fill="url(#gC)"/>
<circle cx="273.5" cy="173.3" r="1.95" fill="url(#gC)"/>
<circle cx="273.5" cy="176.5" r="1.95" fill="url(#gC)"/>
<circle cx="273.5" cy="179.8" r="1.95" fill="url(#gC)"/>
<circle cx="273.5" cy="183.0" r="1.95" fill="url(#gC)"/>
<circle cx="273.7" cy="155.7" r="2.60" fill="url(#gC)"/>
<circle cx="273.5" cy="165.0" r="2.40" fill="url(#gC)"/>
<circle cx="273.5" cy="167.5" r="2.40" fill="url(#gC)"/>
<circle cx="273.5" cy="170.0" r="2.40" fill="url(#gC)"/>
<circle cx="273.4" cy="171.0" r="3.30" fill="url(#gC)"/>
<circle cx="273.4" cy="175.0" r="3.30" fill="url(#gC)"/>
<circle cx="273.4" cy="179.0" r="3.30" fill="url(#gC)"/>
<circle cx="272.8" cy="187.0" r="1.95" fill="url(#gC)"/>
<circle cx="272.8" cy="190.6" r="1.95" fill="url(#gC)"/>
<circle cx="272.8" cy="194.1" r="1.95" fill="url(#gC)"/>
<circle cx="272.8" cy="197.7" r="1.95" fill="url(#gC)"/>
<circle cx="272.8" cy="201.3" r="1.95" fill="url(#gC)"/>
<circle cx="272.8" cy="204.9" r="1.95" fill="url(#gC)"/>
<circle cx="272.8" cy="208.4" r="1.95" fill="url(#gC)"/>
<circle cx="272.8" cy="212.0" r="1.95" fill="url(#gC)"/>
<circle cx="272.8" cy="215.6" r="1.95" fill="url(#gC)"/>
<circle cx="272.8" cy="219.1" r="1.95" fill="url(#gC)"/>
<circle cx="272.8" cy="222.7" r="1.95" fill="url(#gC)"/>
<circle cx="272.8" cy="226.3" r="1.95" fill="url(#gC)"/>
<circle cx="272.8" cy="229.8" r="1.95" fill="url(#gC)"/>
<circle cx="272.8" cy="233.4" r="1.95" fill="url(#gC)"/>
<circle cx="272.8" cy="237.0" r="1.95" fill="url(#gC)"/>
<circle cx="272.8" cy="240.6" r="1.95" fill="url(#gC)"/>
<circle cx="272.8" cy="244.1" r="1.95" fill="url(#gC)"/>
<circle cx="272.8" cy="247.7" r="1.95" fill="url(#gC)"/>
<circle cx="273.2" cy="191.4" r="2.60" fill="url(#gC)"/>
<circle cx="273.1" cy="196.0" r="2.30" fill="url(#gC)"/>
<circle cx="273.1" cy="198.5" r="2.30" fill="url(#gC)"/>
<circle cx="273.1" cy="201.0" r="2.30" fill="url(#gC)"/>
<circle cx="273.0" cy="201.6" r="2.90" fill="url(#gC)"/>
<circle cx="273.0" cy="205.7" r="2.90" fill="url(#gC)"/>
<circle cx="273.0" cy="209.8" r="2.90" fill="url(#gC)"/>
<circle cx="273.0" cy="213.9" r="2.90" fill="url(#gC)"/>
<circle cx="272.6" cy="225.0" r="2.40" fill="url(#gC)"/>
<circle cx="272.6" cy="228.8" r="2.40" fill="url(#gC)"/>
<circle cx="272.6" cy="232.5" r="2.40" fill="url(#gC)"/>
<circle cx="272.6" cy="236.2" r="2.40" fill="url(#gC)"/>
<circle cx="272.6" cy="240.0" r="2.40" fill="url(#gC)"/>
<circle cx="187.0" cy="77.2" r="1.15" fill="#2424dc"/>
<circle cx="188.2" cy="109.4" r="1.15" fill="#2424dc"/>
<circle cx="164.2" cy="109.4" r="1.15" fill="#2424dc"/>
<circle cx="198.0" cy="70.2" r="1.15" fill="#2424dc"/>
<circle cx="198.0" cy="74.3" r="1.15" fill="#2424dc"/>
<circle cx="193.0" cy="112.7" r="1.15" fill="#2424dc"/>
<circle cx="210.0" cy="56.0" r="1.15" fill="#2424dc"/>
<circle cx="210.0" cy="90.0" r="1.15" fill="#2424dc"/>
<circle cx="187.0" cy="134.2" r="1.15" fill="#2424dc"/>
<circle cx="193.0" cy="113.3" r="1.15" fill="#2424dc"/>
<circle cx="193.0" cy="129.6" r="1.15" fill="#2424dc"/>
<circle cx="198.4" cy="175.3" r="1.15" fill="#2424dc"/>
<circle cx="209.3" cy="112.9" r="1.15" fill="#2424dc"/>
<circle cx="227.7" cy="109.6" r="1.15" fill="#2424dc"/>
<circle cx="207.2" cy="130.6" r="1.15" fill="#2424dc"/>
<circle cx="210.7" cy="130.6" r="1.15" fill="#2424dc"/>
<circle cx="210.7" cy="134.7" r="1.15" fill="#2424dc"/>
<circle cx="207.2" cy="149.6" r="1.15" fill="#2424dc"/>
<circle cx="210.7" cy="148.4" r="1.15" fill="#2424dc"/>
<circle cx="217.4" cy="148.6" r="1.15" fill="#2424dc"/>
<circle cx="209.3" cy="160.2" r="1.15" fill="#2424dc"/>
<circle cx="210.7" cy="163.3" r="1.15" fill="#2424dc"/>
<circle cx="209.3" cy="180.0" r="1.15" fill="#2424dc"/>
<circle cx="207.2" cy="183.3" r="1.15" fill="#2424dc"/>
<circle cx="217.4" cy="180.0" r="1.15" fill="#2424dc"/>
<circle cx="209.3" cy="193.9" r="1.15" fill="#2424dc"/>
<circle cx="210.7" cy="194.9" r="1.15" fill="#2424dc"/>
<circle cx="244.4" cy="136.1" r="1.15" fill="#2424dc"/>
<circle cx="209.3" cy="199.0" r="1.15" fill="#2424dc"/>
<circle cx="209.3" cy="204.8" r="1.15" fill="#2424dc"/>
<circle cx="210.0" cy="211.2" r="1.15" fill="#2424dc"/>
<circle cx="207.5" cy="225.0" r="1.15" fill="#2424dc"/>
<circle cx="210.6" cy="226.0" r="1.15" fill="#2424dc"/>
<circle cx="208.8" cy="241.6" r="1.15" fill="#2424dc"/>
<circle cx="187.3" cy="193.2" r="1.15" fill="#2424dc"/>
<circle cx="266.4" cy="64.0" r="1.15" fill="#2424dc"/>
<circle cx="263.4" cy="81.3" r="1.15" fill="#2424dc"/>
<circle cx="267.4" cy="94.0" r="1.15" fill="#2424dc"/>
<circle cx="263.4" cy="103.8" r="1.15" fill="#2424dc"/>
<circle cx="267.0" cy="112.3" r="1.15" fill="#2424dc"/>
<circle cx="267.0" cy="116.4" r="1.15" fill="#2424dc"/>
<circle cx="266.4" cy="126.2" r="1.15" fill="#2424dc"/>
<circle cx="266.4" cy="139.5" r="1.15" fill="#2424dc"/>
<circle cx="286.8" cy="129.0" r="1.15" fill="#2424dc"/>
<circle cx="245.0" cy="135.8" r="1.15" fill="#2424dc"/>
<circle cx="305.7" cy="69.4" r="1.15" fill="#2424dc"/>
<circle cx="308.4" cy="153.7" r="1.15" fill="#2424dc"/>
<circle cx="286.0" cy="179.0" r="1.15" fill="#2424dc"/>
<circle cx="303.7" cy="180.6" r="1.15" fill="#2424dc"/>
<circle cx="265.5" cy="200.6" r="1.15" fill="#2424dc"/>
<circle cx="265.5" cy="205.7" r="1.15" fill="#2424dc"/>
<circle cx="302.9" cy="207.3" r="1.15" fill="#2424dc"/>
<circle cx="307.3" cy="211.4" r="1.15" fill="#2424dc"/>
<circle cx="302.4" cy="220.8" r="1.15" fill="#2424dc"/>
<circle cx="265.2" cy="222.6" r="1.15" fill="#2424dc"/>
<circle cx="265.2" cy="233.2" r="1.15" fill="#2424dc"/>
<circle cx="285.0" cy="242.1" r="1.15" fill="#2424dc"/>
<circle cx="85.6" cy="171.7" r="1.15" fill="#2424dc"/>
<circle cx="130.7" cy="181.0" r="1.15" fill="#2424dc"/>
<circle cx="153.0" cy="144.6" r="1.15" fill="#2424dc"/>
<circle cx="153.0" cy="147.2" r="1.15" fill="#2424dc"/>
<circle cx="179.8" cy="71.0" r="1.15" fill="#2424dc"/>
<circle cx="179.8" cy="75.1" r="1.15" fill="#2424dc"/>
<circle cx="179.8" cy="79.2" r="1.15" fill="#2424dc"/>
<circle cx="179.8" cy="96.3" r="1.15" fill="#2424dc"/>
<circle cx="179.8" cy="98.0" r="1.15" fill="#2424dc"/>
<circle cx="179.8" cy="102.0" r="1.15" fill="#2424dc"/>
<circle cx="179.8" cy="105.3" r="1.15" fill="#2424dc"/>
<circle cx="179.8" cy="113.5" r="1.15" fill="#2424dc"/>
<circle cx="179.8" cy="116.5" r="1.15" fill="#2424dc"/>
<circle cx="179.8" cy="154.0" r="1.15" fill="#2424dc"/>
<circle cx="179.8" cy="158.2" r="1.15" fill="#2424dc"/>
<circle cx="179.8" cy="199.3" r="1.15" fill="#2424dc"/>
<circle cx="179.8" cy="219.7" r="1.15" fill="#2424dc"/>
<circle cx="180.0" cy="156.0" r="0.90" fill="#2424dc"/>
<circle cx="180.0" cy="157.0" r="0.90" fill="#2424dc"/>
<circle cx="180.0" cy="158.0" r="0.90" fill="#2424dc"/>
<circle cx="180.0" cy="159.0" r="0.90" fill="#2424dc"/>
<circle cx="180.0" cy="160.0" r="0.90" fill="#2424dc"/>
<circle cx="180.0" cy="161.0" r="0.90" fill="#2424dc"/>
<circle cx="550.0" cy="74.7" r="1.30" fill="url(#gY)"/>
<circle cx="550.0" cy="75.8" r="1.30" fill="url(#gY)"/>
<circle cx="550.0" cy="76.8" r="1.30" fill="url(#gY)"/>
<circle cx="550.0" cy="77.9" r="1.30" fill="url(#gY)"/>
<circle cx="550.0" cy="79.0" r="1.30" fill="url(#gY)"/>
<circle cx="550.0" cy="80.1" r="1.30" fill="url(#gY)"/>
<circle cx="550.0" cy="81.1" r="1.30" fill="url(#gY)"/>
<circle cx="550.0" cy="82.2" r="1.30" fill="url(#gY)"/>
<circle cx="550.0" cy="101.3" r="1.30" fill="url(#gY)"/>
<circle cx="550.0" cy="102.4" r="1.30" fill="url(#gY)"/>
<circle cx="550.0" cy="103.5" r="1.30" fill="url(#gY)"/>
<circle cx="550.0" cy="104.5" r="1.30" fill="url(#gY)"/>
<circle cx="550.0" cy="105.6" r="1.30" fill="url(#gY)"/>
<circle cx="550.0" cy="106.7" r="1.30" fill="url(#gY)"/>
<circle cx="550.0" cy="107.8" r="1.30" fill="url(#gY)"/>
<circle cx="550.0" cy="108.8" r="1.30" fill="url(#gY)"/>
<circle cx="550.0" cy="109.9" r="1.30" fill="url(#gY)"/>
<circle cx="550.0" cy="111.0" r="1.30" fill="url(#gY)"/>
<circle cx="550.0" cy="112.1" r="1.30" fill="url(#gY)"/>
<circle cx="550.0" cy="113.2" r="1.30" fill="url(#gY)"/>
<circle cx="550.0" cy="114.2" r="1.30" fill="url(#gY)"/>
<circle cx="550.0" cy="115.3" r="1.30" fill="url(#gY)"/>
<circle cx="550.0" cy="116.4" r="1.30" fill="url(#gY)"/>
<circle cx="550.0" cy="117.5" r="1.30" fill="url(#gY)"/>
<circle cx="550.0" cy="118.5" r="1.30" fill="url(#gY)"/>
<circle cx="550.0" cy="119.6" r="1.30" fill="url(#gY)"/>
<circle cx="550.0" cy="120.7" r="1.30" fill="url(#gY)"/>
<circle cx="550.0" cy="130.7" r="1.30" fill="url(#gY)"/>
<circle cx="550.0" cy="131.8" r="1.30" fill="url(#gY)"/>
<circle cx="550.0" cy="132.9" r="1.30" fill="url(#gY)"/>
<circle cx="550.0" cy="133.9" r="1.30" fill="url(#gY)"/>
<circle cx="550.0" cy="135.0" r="1.30" fill="url(#gY)"/>
<circle cx="550.0" cy="136.1" r="1.30" fill="url(#gY)"/>
<circle cx="550.0" cy="137.2" r="1.30" fill="url(#gY)"/>
<circle cx="550.0" cy="138.2" r="1.30" fill="url(#gY)"/>
<circle cx="550.0" cy="139.3" r="1.30" fill="url(#gY)"/>
<circle cx="550.0" cy="140.4" r="1.30" fill="url(#gY)"/>
<circle cx="550.0" cy="141.4" r="1.30" fill="url(#gY)"/>
<circle cx="550.0" cy="142.5" r="1.30" fill="url(#gY)"/>
<circle cx="550.0" cy="143.6" r="1.30" fill="url(#gY)"/>
<circle cx="550.0" cy="144.7" r="1.30" fill="url(#gY)"/>
<circle cx="550.0" cy="145.8" r="1.30" fill="url(#gY)"/>
<circle cx="550.0" cy="146.8" r="1.30" fill="url(#gY)"/>
<circle cx="550.0" cy="147.9" r="1.30" fill="url(#gY)"/>
<circle cx="550.0" cy="149.0" r="1.30" fill="url(#gY)"/>
<circle cx="550.0" cy="150.0" r="1.30" fill="url(#gY)"/>
<circle cx="550.0" cy="151.1" r="1.30" fill="url(#gY)"/>
<circle cx="550.0" cy="152.2" r="1.30" fill="url(#gY)"/>
<circle cx="550.0" cy="169.3" r="1.30" fill="url(#gY)"/>
<circle cx="550.0" cy="170.4" r="1.30" fill="url(#gY)"/>
<circle cx="550.0" cy="171.4" r="1.30" fill="url(#gY)"/>
<circle cx="550.0" cy="172.5" r="1.30" fill="url(#gY)"/>
<circle cx="550.0" cy="173.6" r="1.30" fill="url(#gY)"/>
<circle cx="550.0" cy="174.6" r="1.30" fill="url(#gY)"/>
<circle cx="550.0" cy="175.7" r="1.30" fill="url(#gY)"/>
<circle cx="550.0" cy="185.2" r="1.40" fill="url(#gY)"/>
<circle cx="550.0" cy="186.4" r="1.40" fill="url(#gY)"/>
<circle cx="550.0" cy="187.5" r="1.40" fill="url(#gY)"/>
<circle cx="550.0" cy="188.7" r="1.40" fill="url(#gY)"/>
<circle cx="550.0" cy="189.9" r="1.40" fill="url(#gY)"/>
<circle cx="550.0" cy="191.0" r="1.40" fill="url(#gY)"/>
<circle cx="550.0" cy="192.2" r="1.40" fill="url(#gY)"/>
<circle cx="550.0" cy="193.4" r="1.40" fill="url(#gY)"/>
<circle cx="550.0" cy="194.5" r="1.40" fill="url(#gY)"/>
<circle cx="550.0" cy="195.7" r="1.40" fill="url(#gY)"/>
<circle cx="550.0" cy="196.9" r="1.40" fill="url(#gY)"/>
<circle cx="550.0" cy="198.0" r="1.40" fill="url(#gY)"/>
<circle cx="550.0" cy="199.2" r="1.40" fill="url(#gY)"/>
<circle cx="550.0" cy="208.4" r="1.10" fill="url(#gY)"/>
<circle cx="550.0" cy="209.3" r="1.10" fill="url(#gY)"/>
<circle cx="550.0" cy="210.2" r="1.10" fill="url(#gY)"/>
<circle cx="550.0" cy="211.1" r="1.10" fill="url(#gY)"/>
<circle cx="550.0" cy="212.0" r="1.10" fill="url(#gY)"/>
<circle cx="550.0" cy="212.9" r="1.10" fill="url(#gY)"/>
<circle cx="550.2" cy="194.7" r="2.70" fill="url(#gY)"/>
<circle cx="550.2" cy="196.5" r="2.70" fill="url(#gY)"/>
<circle cx="550.2" cy="198.3" r="2.70" fill="url(#gY)"/>
<circle cx="562.6" cy="109.4" r="1.95" fill="url(#gR)"/>
<circle cx="562.6" cy="110.8" r="1.95" fill="url(#gR)"/>
<circle cx="562.6" cy="112.2" r="1.95" fill="url(#gR)"/>
<circle cx="562.6" cy="113.6" r="1.95" fill="url(#gR)"/>
<circle cx="562.6" cy="115.0" r="1.95" fill="url(#gR)"/>
<circle cx="562.6" cy="116.4" r="1.95" fill="url(#gR)"/>
<circle cx="562.6" cy="117.8" r="1.95" fill="url(#gR)"/>
<circle cx="562.6" cy="119.2" r="1.95" fill="url(#gR)"/>
<rect x="562.6" y="137.7" width="1.8" height="7.9" rx="0.9" fill="#2424dc"/>
<rect x="562.6" y="186.0" width="1.8" height="15.7" rx="0.9" fill="#2424dc"/>
<circle cx="581.4" cy="66.3" r="1.20" fill="url(#gG)"/>
<circle cx="581.2" cy="73.9" r="1.40" fill="url(#gG)"/>
<circle cx="581.2" cy="75.0" r="1.40" fill="url(#gG)"/>
<circle cx="581.2" cy="76.0" r="1.40" fill="url(#gG)"/>
<circle cx="581.2" cy="77.1" r="1.40" fill="url(#gG)"/>
<circle cx="581.2" cy="78.2" r="1.40" fill="url(#gG)"/>
<circle cx="581.2" cy="79.2" r="1.40" fill="url(#gG)"/>
<circle cx="581.2" cy="80.3" r="1.40" fill="url(#gG)"/>
<circle cx="581.2" cy="99.5" r="1.30" fill="url(#gG)"/>
<circle cx="581.2" cy="100.5" r="1.30" fill="url(#gG)"/>
<circle cx="581.2" cy="101.5" r="1.30" fill="url(#gG)"/>
<circle cx="581.2" cy="106.9" r="1.40" fill="url(#gG)"/>
<circle cx="581.2" cy="108.0" r="1.40" fill="url(#gG)"/>
<circle cx="581.2" cy="109.1" r="1.40" fill="url(#gG)"/>
<circle cx="581.2" cy="110.3" r="1.40" fill="url(#gG)"/>
<circle cx="581.2" cy="111.4" r="1.40" fill="url(#gG)"/>
<circle cx="581.2" cy="112.5" r="1.40" fill="url(#gG)"/>
<circle cx="581.2" cy="113.6" r="1.40" fill="url(#gG)"/>
<circle cx="581.2" cy="114.8" r="1.40" fill="url(#gG)"/>
<circle cx="581.2" cy="115.9" r="1.40" fill="url(#gG)"/>
<circle cx="581.2" cy="117.0" r="1.40" fill="url(#gG)"/>
<circle cx="581.2" cy="118.1" r="1.40" fill="url(#gG)"/>
<circle cx="581.2" cy="119.2" r="1.40" fill="url(#gG)"/>
<circle cx="581.2" cy="120.4" r="1.40" fill="url(#gG)"/>
<circle cx="581.2" cy="121.5" r="1.40" fill="url(#gG)"/>
<circle cx="581.2" cy="122.6" r="1.40" fill="url(#gG)"/>
<circle cx="581.2" cy="131.8" r="1.40" fill="url(#gG)"/>
<circle cx="581.2" cy="132.9" r="1.40" fill="url(#gG)"/>
<circle cx="581.2" cy="134.0" r="1.40" fill="url(#gG)"/>
<circle cx="581.2" cy="135.2" r="1.40" fill="url(#gG)"/>
<circle cx="581.2" cy="136.3" r="1.40" fill="url(#gG)"/>
<circle cx="581.2" cy="137.4" r="1.40" fill="url(#gG)"/>
<circle cx="581.2" cy="138.5" r="1.40" fill="url(#gG)"/>
<circle cx="581.2" cy="139.7" r="1.40" fill="url(#gG)"/>
<circle cx="581.2" cy="140.8" r="1.40" fill="url(#gG)"/>
<circle cx="581.2" cy="141.9" r="1.40" fill="url(#gG)"/>
<circle cx="581.2" cy="143.0" r="1.40" fill="url(#gG)"/>
<circle cx="581.2" cy="144.2" r="1.40" fill="url(#gG)"/>
<circle cx="581.2" cy="145.3" r="1.40" fill="url(#gG)"/>
<circle cx="581.2" cy="146.4" r="1.40" fill="url(#gG)"/>
<circle cx="581.2" cy="147.5" r="1.40" fill="url(#gG)"/>
<circle cx="581.2" cy="148.7" r="1.40" fill="url(#gG)"/>
<circle cx="581.2" cy="149.8" r="1.40" fill="url(#gG)"/>
<circle cx="581.2" cy="150.9" r="1.40" fill="url(#gG)"/>
<circle cx="581.2" cy="152.0" r="1.40" fill="url(#gG)"/>
<circle cx="581.2" cy="153.2" r="1.40" fill="url(#gG)"/>
<circle cx="581.2" cy="154.3" r="1.40" fill="url(#gG)"/>
<circle cx="581.2" cy="155.4" r="1.40" fill="url(#gG)"/>
<circle cx="581.2" cy="172.8" r="1.40" fill="url(#gG)"/>
<circle cx="581.2" cy="173.8" r="1.40" fill="url(#gG)"/>
<circle cx="581.2" cy="174.9" r="1.40" fill="url(#gG)"/>
<circle cx="581.2" cy="175.9" r="1.40" fill="url(#gG)"/>
<circle cx="581.2" cy="177.0" r="1.40" fill="url(#gG)"/>
<circle cx="581.2" cy="178.0" r="1.40" fill="url(#gG)"/>
<circle cx="581.2" cy="179.1" r="1.40" fill="url(#gG)"/>
<circle cx="581.2" cy="180.1" r="1.40" fill="url(#gG)"/>
<circle cx="581.2" cy="189.8" r="1.50" fill="url(#gG)"/>
<circle cx="581.2" cy="191.0" r="1.50" fill="url(#gG)"/>
<circle cx="581.2" cy="192.3" r="1.50" fill="url(#gG)"/>
<circle cx="581.2" cy="193.5" r="1.50" fill="url(#gG)"/>
<circle cx="581.2" cy="194.8" r="1.50" fill="url(#gG)"/>
<circle cx="581.2" cy="196.0" r="1.50" fill="url(#gG)"/>
<circle cx="581.2" cy="197.2" r="1.50" fill="url(#gG)"/>
<circle cx="581.2" cy="198.5" r="1.50" fill="url(#gG)"/>
<circle cx="581.2" cy="199.7" r="1.50" fill="url(#gG)"/>
<circle cx="581.2" cy="201.0" r="1.50" fill="url(#gG)"/>
<circle cx="581.2" cy="202.2" r="1.50" fill="url(#gG)"/>
<circle cx="581.2" cy="203.5" r="1.50" fill="url(#gG)"/>
<circle cx="581.2" cy="204.7" r="1.50" fill="url(#gG)"/>
<circle cx="581.0" cy="195.8" r="2.80" fill="url(#gG)"/>
<circle cx="581.0" cy="197.7" r="2.80" fill="url(#gG)"/>
<circle cx="581.0" cy="199.5" r="2.80" fill="url(#gG)"/>
<circle cx="581.0" cy="201.3" r="2.80" fill="url(#gG)"/>
<circle cx="581.0" cy="203.2" r="2.80" fill="url(#gG)"/>
<circle cx="581.0" cy="218.6" r="0.90" fill="url(#gG)"/>
<circle cx="580.0" cy="108.8" r="2.30" fill="url(#gC)"/>
<circle cx="580.0" cy="110.5" r="2.30" fill="url(#gC)"/>
<circle cx="580.0" cy="112.2" r="2.30" fill="url(#gC)"/>
<circle cx="580.0" cy="113.8" r="2.30" fill="url(#gC)"/>
<circle cx="580.0" cy="115.5" r="2.30" fill="url(#gC)"/>
<circle cx="580.0" cy="117.2" r="2.30" fill="url(#gC)"/>
<circle cx="580.0" cy="118.9" r="2.30" fill="url(#gC)"/>
<circle cx="580.0" cy="229.0" r="1.60" fill="url(#gC)"/>
<circle cx="580.0" cy="231.1" r="1.60" fill="url(#gC)"/>
<circle cx="580.0" cy="233.1" r="1.60" fill="url(#gC)"/>
<circle cx="580.0" cy="235.2" r="1.60" fill="url(#gC)"/>
<circle cx="580.0" cy="237.2" r="1.60" fill="url(#gC)"/>
<circle cx="580.0" cy="239.3" r="1.60" fill="url(#gC)"/>
<circle cx="580.0" cy="241.3" r="1.60" fill="url(#gC)"/>
<circle cx="580.0" cy="243.4" r="1.60" fill="url(#gC)"/>
<circle cx="580.0" cy="245.4" r="1.60" fill="url(#gC)"/>
<circle cx="580.0" cy="247.5" r="1.60" fill="url(#gC)"/>
<circle cx="579.9" cy="147.9" r="1.30" fill="#2424dc"/>
<circle cx="628.6" cy="229.4" r="1.30" fill="#2424dc"/>
<circle cx="537.7" cy="146.3" r="1.30" fill="#2424dc"/>
<circle cx="537.7" cy="173.7" r="1.30" fill="#2424dc"/>
<circle cx="484.9" cy="203.4" r="1.30" fill="#2424dc"/>
<circle cx="499.4" cy="40.0" r="1.30" fill="#2424dc"/>
<circle cx="535.0" cy="46.6" r="1.30" fill="#2424dc"/>
<circle cx="576.6" cy="46.6" r="1.30" fill="#2424dc"/>
<circle cx="482.9" cy="90.9" r="1.30" fill="#2424dc"/>
<circle cx="566.0" cy="19.0" r="1.30" fill="#2424dc"/>
<circle cx="665.8" cy="37.4" r="1.30" fill="#2424dc"/>
<circle cx="683.9" cy="45.7" r="1.30" fill="#2424dc"/>
<rect x="582.4" y="190.5" width="1.8" height="5.5" rx="0.9" fill="#2424dc"/>
<rect x="577.2" y="213.0" width="1.8" height="5.6" rx="0.9" fill="#2424dc"/>
<rect x="597.0" y="215.2" width="1.8" height="10.1" rx="0.9" fill="#2424dc"/>
<rect x="699.6" y="45.2" width="1.8" height="6.0" rx="0.9" fill="#2424dc"/>
<rect x="664.9" y="61.0" width="1.8" height="4.6" rx="0.9" fill="#2424dc"/>
<circle cx="456.6" cy="211.2" r="1.20" fill="url(#gY)"/>
<circle cx="456.6" cy="212.1" r="1.20" fill="url(#gY)"/>
<circle cx="456.6" cy="213.1" r="1.20" fill="url(#gY)"/>
<circle cx="456.6" cy="214.0" r="1.20" fill="url(#gY)"/>
<circle cx="456.6" cy="214.9" r="1.20" fill="url(#gY)"/>
<circle cx="456.6" cy="215.9" r="1.20" fill="url(#gY)"/>
<circle cx="456.6" cy="216.8" r="1.20" fill="url(#gY)"/>
<circle cx="488.6" cy="218.4" r="1.40" fill="url(#gG)"/>
<circle cx="488.6" cy="219.4" r="1.40" fill="url(#gG)"/>
<circle cx="488.6" cy="220.5" r="1.40" fill="url(#gG)"/>
<circle cx="488.6" cy="221.5" r="1.40" fill="url(#gG)"/>
<circle cx="488.6" cy="222.5" r="1.40" fill="url(#gG)"/>
<circle cx="488.6" cy="223.5" r="1.40" fill="url(#gG)"/>
<circle cx="488.6" cy="224.6" r="1.40" fill="url(#gG)"/>
<circle cx="488.6" cy="225.6" r="1.40" fill="url(#gG)"/>
<circle cx="653.4" cy="62.1" r="1.20" fill="url(#gR)"/>
<circle cx="653.2" cy="70.9" r="1.60" fill="url(#gR)"/>
<circle cx="653.2" cy="72.2" r="1.60" fill="url(#gR)"/>
<circle cx="653.2" cy="73.6" r="1.60" fill="url(#gR)"/>
<circle cx="653.2" cy="74.9" r="1.60" fill="url(#gR)"/>
<circle cx="653.2" cy="76.2" r="1.60" fill="url(#gR)"/>
<circle cx="653.2" cy="77.6" r="1.60" fill="url(#gR)"/>
<circle cx="653.2" cy="78.9" r="1.60" fill="url(#gR)"/>
<circle cx="653.2" cy="84.1" r="1.40" fill="url(#gR)"/>
<circle cx="653.2" cy="85.0" r="1.40" fill="url(#gR)"/>
<circle cx="653.2" cy="85.8" r="1.40" fill="url(#gR)"/>
<circle cx="653.0" cy="98.2" r="1.25" fill="url(#gR)"/>
<circle cx="653.0" cy="99.2" r="1.25" fill="url(#gR)"/>
<circle cx="653.0" cy="100.2" r="1.25" fill="url(#gR)"/>
<circle cx="653.0" cy="101.3" r="1.25" fill="url(#gR)"/>
<circle cx="653.0" cy="102.3" r="1.25" fill="url(#gR)"/>
<circle cx="653.0" cy="103.4" r="1.25" fill="url(#gR)"/>
<circle cx="653.0" cy="104.4" r="1.25" fill="url(#gR)"/>
<circle cx="653.0" cy="105.4" r="1.25" fill="url(#gR)"/>
<circle cx="653.0" cy="106.5" r="1.25" fill="url(#gR)"/>
<circle cx="653.0" cy="107.5" r="1.25" fill="url(#gR)"/>
<circle cx="653.0" cy="108.6" r="1.25" fill="url(#gR)"/>
<circle cx="653.0" cy="109.6" r="1.25" fill="url(#gR)"/>
<circle cx="653.0" cy="110.7" r="1.25" fill="url(#gR)"/>
<circle cx="653.0" cy="111.7" r="1.25" fill="url(#gR)"/>
<circle cx="653.0" cy="112.7" r="1.25" fill="url(#gR)"/>
<circle cx="653.0" cy="113.8" r="1.25" fill="url(#gR)"/>
<circle cx="653.0" cy="114.8" r="1.25" fill="url(#gR)"/>
<circle cx="653.0" cy="115.9" r="1.25" fill="url(#gR)"/>
<circle cx="653.0" cy="116.9" r="1.25" fill="url(#gR)"/>
<circle cx="653.0" cy="118.0" r="1.25" fill="url(#gR)"/>
<circle cx="653.0" cy="119.0" r="1.25" fill="url(#gR)"/>
<circle cx="653.0" cy="120.0" r="1.25" fill="url(#gR)"/>
<circle cx="653.0" cy="121.1" r="1.25" fill="url(#gR)"/>
<circle cx="653.0" cy="122.1" r="1.25" fill="url(#gR)"/>
<circle cx="653.0" cy="123.2" r="1.25" fill="url(#gR)"/>
<circle cx="653.0" cy="124.2" r="1.25" fill="url(#gR)"/>
<circle cx="653.0" cy="125.3" r="1.25" fill="url(#gR)"/>
<circle cx="653.0" cy="126.3" r="1.25" fill="url(#gR)"/>
<circle cx="653.0" cy="127.3" r="1.25" fill="url(#gR)"/>
<circle cx="653.0" cy="128.4" r="1.25" fill="url(#gR)"/>
<circle cx="653.0" cy="129.4" r="1.25" fill="url(#gR)"/>
<circle cx="653.0" cy="130.5" r="1.25" fill="url(#gR)"/>
<circle cx="653.0" cy="131.5" r="1.25" fill="url(#gR)"/>
<circle cx="653.0" cy="132.6" r="1.25" fill="url(#gR)"/>
<circle cx="653.0" cy="133.6" r="1.25" fill="url(#gR)"/>
<circle cx="653.0" cy="134.6" r="1.25" fill="url(#gR)"/>
<circle cx="653.0" cy="135.7" r="1.25" fill="url(#gR)"/>
<circle cx="653.0" cy="136.7" r="1.25" fill="url(#gR)"/>
<circle cx="653.0" cy="137.8" r="1.25" fill="url(#gR)"/>
<circle cx="653.0" cy="138.8" r="1.25" fill="url(#gR)"/>
<circle cx="653.0" cy="139.9" r="1.25" fill="url(#gR)"/>
<circle cx="653.0" cy="140.9" r="1.25" fill="url(#gR)"/>
<circle cx="653.0" cy="141.9" r="1.25" fill="url(#gR)"/>
<circle cx="653.0" cy="143.0" r="1.25" fill="url(#gR)"/>
<circle cx="653.0" cy="144.0" r="1.25" fill="url(#gR)"/>
<circle cx="653.0" cy="145.1" r="1.25" fill="url(#gR)"/>
<circle cx="653.0" cy="146.1" r="1.25" fill="url(#gR)"/>
<circle cx="653.0" cy="147.2" r="1.25" fill="url(#gR)"/>
<circle cx="653.0" cy="148.2" r="1.25" fill="url(#gR)"/>
<circle cx="653.0" cy="149.2" r="1.25" fill="url(#gR)"/>
<circle cx="653.0" cy="150.3" r="1.25" fill="url(#gR)"/>
<circle cx="653.0" cy="151.3" r="1.25" fill="url(#gR)"/>
<circle cx="653.0" cy="152.4" r="1.25" fill="url(#gR)"/>
<circle cx="653.0" cy="153.4" r="1.25" fill="url(#gR)"/>
<circle cx="653.0" cy="154.5" r="1.25" fill="url(#gR)"/>
<circle cx="653.0" cy="155.5" r="1.25" fill="url(#gR)"/>
<circle cx="653.0" cy="156.5" r="1.25" fill="url(#gR)"/>
<circle cx="653.0" cy="157.6" r="1.25" fill="url(#gR)"/>
<circle cx="653.0" cy="158.6" r="1.25" fill="url(#gR)"/>
<circle cx="653.0" cy="159.7" r="1.25" fill="url(#gR)"/>
<circle cx="653.0" cy="160.7" r="1.25" fill="url(#gR)"/>
<circle cx="653.0" cy="161.8" r="1.25" fill="url(#gR)"/>
<circle cx="652.7" cy="135.1" r="2.10" fill="url(#gR)"/>
<circle cx="652.7" cy="136.7" r="2.10" fill="url(#gR)"/>
<circle cx="652.7" cy="138.2" r="2.10" fill="url(#gR)"/>
<circle cx="652.7" cy="139.8" r="2.10" fill="url(#gR)"/>
<circle cx="652.7" cy="141.3" r="2.10" fill="url(#gR)"/>
<circle cx="652.7" cy="142.9" r="2.10" fill="url(#gR)"/>
<circle cx="652.3" cy="180.6" r="2.10" fill="url(#gR)"/>
<circle cx="652.3" cy="182.3" r="2.10" fill="url(#gR)"/>
<circle cx="652.3" cy="183.9" r="2.10" fill="url(#gR)"/>
<circle cx="652.3" cy="185.6" r="2.10" fill="url(#gR)"/>
<circle cx="652.3" cy="187.2" r="2.10" fill="url(#gR)"/>
<circle cx="652.3" cy="188.9" r="2.10" fill="url(#gR)"/>
<circle cx="652.2" cy="198.8" r="1.40" fill="url(#gR)"/>
<circle cx="652.2" cy="200.0" r="1.40" fill="url(#gR)"/>
<circle cx="652.2" cy="201.1" r="1.40" fill="url(#gR)"/>
<circle cx="652.2" cy="202.3" r="1.40" fill="url(#gR)"/>
<circle cx="652.2" cy="203.4" r="1.40" fill="url(#gR)"/>
<circle cx="652.2" cy="204.6" r="1.40" fill="url(#gR)"/>
<circle cx="652.2" cy="206.7" r="2.70" fill="url(#gR)"/>
<circle cx="652.2" cy="208.6" r="2.70" fill="url(#gR)"/>
<circle cx="652.2" cy="210.5" r="2.70" fill="url(#gR)"/>
<circle cx="652.2" cy="212.5" r="2.70" fill="url(#gR)"/>
<circle cx="652.2" cy="214.4" r="2.70" fill="url(#gR)"/>
<circle cx="652.2" cy="216.3" r="2.70" fill="url(#gR)"/>
<circle cx="652.1" cy="225.6" r="1.30" fill="url(#gR)"/>
<circle cx="652.1" cy="226.6" r="1.30" fill="url(#gR)"/>
<circle cx="652.1" cy="227.6" r="1.30" fill="url(#gR)"/>
<circle cx="652.1" cy="228.6" r="1.30" fill="url(#gR)"/>
<circle cx="652.1" cy="229.6" r="1.30" fill="url(#gR)"/>
<circle cx="652.1" cy="230.6" r="1.30" fill="url(#gR)"/>
<circle cx="652.1" cy="231.6" r="1.30" fill="url(#gR)"/>
<circle cx="669.6" cy="59.7" r="1.40" fill="url(#gC)"/>
<circle cx="669.4" cy="69.0" r="2.00" fill="url(#gC)"/>
<circle cx="669.4" cy="70.4" r="2.00" fill="url(#gC)"/>
<circle cx="669.4" cy="71.8" r="2.00" fill="url(#gC)"/>
<circle cx="669.4" cy="73.2" r="2.00" fill="url(#gC)"/>
<circle cx="669.4" cy="74.6" r="2.00" fill="url(#gC)"/>
<circle cx="669.4" cy="76.0" r="2.00" fill="url(#gC)"/>
<circle cx="669.4" cy="77.4" r="2.00" fill="url(#gC)"/>
<circle cx="669.0" cy="97.6" r="1.40" fill="url(#gC)"/>
<circle cx="669.0" cy="98.8" r="1.40" fill="url(#gC)"/>
<circle cx="669.0" cy="99.9" r="1.40" fill="url(#gC)"/>
<circle cx="669.0" cy="101.1" r="1.40" fill="url(#gC)"/>
<circle cx="669.0" cy="102.3" r="1.40" fill="url(#gC)"/>
<circle cx="669.0" cy="103.4" r="1.40" fill="url(#gC)"/>
<circle cx="669.0" cy="104.6" r="1.40" fill="url(#gC)"/>
<circle cx="669.0" cy="105.8" r="1.40" fill="url(#gC)"/>
<circle cx="669.0" cy="106.9" r="1.40" fill="url(#gC)"/>
<circle cx="669.0" cy="108.1" r="1.40" fill="url(#gC)"/>
<circle cx="669.0" cy="109.3" r="1.40" fill="url(#gC)"/>
<circle cx="669.0" cy="110.4" r="1.40" fill="url(#gC)"/>
<circle cx="669.0" cy="111.6" r="1.40" fill="url(#gC)"/>
<circle cx="669.0" cy="112.8" r="1.40" fill="url(#gC)"/>
<circle cx="669.0" cy="113.9" r="1.40" fill="url(#gC)"/>
<circle cx="669.0" cy="115.1" r="1.40" fill="url(#gC)"/>
<circle cx="669.0" cy="116.3" r="1.40" fill="url(#gC)"/>
<circle cx="669.0" cy="117.4" r="1.40" fill="url(#gC)"/>
<circle cx="669.0" cy="118.6" r="1.40" fill="url(#gC)"/>
<circle cx="669.0" cy="119.8" r="1.40" fill="url(#gC)"/>
<circle cx="669.0" cy="120.9" r="1.40" fill="url(#gC)"/>
<circle cx="669.0" cy="122.1" r="1.40" fill="url(#gC)"/>
<circle cx="669.0" cy="123.3" r="1.40" fill="url(#gC)"/>
<circle cx="669.0" cy="124.4" r="1.40" fill="url(#gC)"/>
<circle cx="669.0" cy="125.6" r="1.40" fill="url(#gC)"/>
<circle cx="669.0" cy="126.8" r="1.40" fill="url(#gC)"/>
<circle cx="669.0" cy="127.9" r="1.40" fill="url(#gC)"/>
<circle cx="669.0" cy="129.1" r="1.40" fill="url(#gC)"/>
<circle cx="669.0" cy="130.2" r="1.40" fill="url(#gC)"/>
<circle cx="669.0" cy="131.4" r="1.40" fill="url(#gC)"/>
<circle cx="669.0" cy="132.6" r="1.40" fill="url(#gC)"/>
<circle cx="669.0" cy="133.7" r="1.40" fill="url(#gC)"/>
<circle cx="669.0" cy="134.9" r="1.40" fill="url(#gC)"/>
<circle cx="669.0" cy="136.1" r="1.40" fill="url(#gC)"/>
<circle cx="669.0" cy="137.2" r="1.40" fill="url(#gC)"/>
<circle cx="669.0" cy="138.4" r="1.40" fill="url(#gC)"/>
<circle cx="669.0" cy="139.6" r="1.40" fill="url(#gC)"/>
<circle cx="669.0" cy="140.7" r="1.40" fill="url(#gC)"/>
<circle cx="669.0" cy="141.9" r="1.40" fill="url(#gC)"/>
<circle cx="669.0" cy="143.1" r="1.40" fill="url(#gC)"/>
<circle cx="669.0" cy="144.2" r="1.40" fill="url(#gC)"/>
<circle cx="669.0" cy="145.4" r="1.40" fill="url(#gC)"/>
<circle cx="669.0" cy="146.6" r="1.40" fill="url(#gC)"/>
<circle cx="669.0" cy="147.7" r="1.40" fill="url(#gC)"/>
<circle cx="669.0" cy="148.9" r="1.40" fill="url(#gC)"/>
<circle cx="669.0" cy="150.1" r="1.40" fill="url(#gC)"/>
<circle cx="669.0" cy="151.2" r="1.40" fill="url(#gC)"/>
<circle cx="669.0" cy="152.4" r="1.40" fill="url(#gC)"/>
<circle cx="669.0" cy="153.6" r="1.40" fill="url(#gC)"/>
<circle cx="669.0" cy="154.7" r="1.40" fill="url(#gC)"/>
<circle cx="669.0" cy="155.9" r="1.40" fill="url(#gC)"/>
<circle cx="669.0" cy="157.1" r="1.40" fill="url(#gC)"/>
<circle cx="669.0" cy="158.2" r="1.40" fill="url(#gC)"/>
<circle cx="669.0" cy="159.4" r="1.40" fill="url(#gC)"/>
<circle cx="669.0" cy="160.6" r="1.40" fill="url(#gC)"/>
<circle cx="669.0" cy="161.7" r="1.40" fill="url(#gC)"/>
<circle cx="669.0" cy="162.9" r="1.40" fill="url(#gC)"/>
<circle cx="668.6" cy="136.0" r="2.70" fill="url(#gC)"/>
<circle cx="668.6" cy="137.9" r="2.70" fill="url(#gC)"/>
<circle cx="668.6" cy="139.9" r="2.70" fill="url(#gC)"/>
<circle cx="668.6" cy="141.9" r="2.70" fill="url(#gC)"/>
<circle cx="668.6" cy="143.8" r="2.70" fill="url(#gC)"/>
<circle cx="668.0" cy="182.0" r="1.80" fill="url(#gC)"/>
<circle cx="668.0" cy="183.5" r="1.80" fill="url(#gC)"/>
<circle cx="668.0" cy="185.0" r="1.80" fill="url(#gC)"/>
<circle cx="668.0" cy="186.4" r="1.80" fill="url(#gC)"/>
<circle cx="668.0" cy="187.9" r="1.80" fill="url(#gC)"/>
<circle cx="668.0" cy="189.4" r="1.80" fill="url(#gC)"/>
<circle cx="667.8" cy="202.0" r="2.20" fill="url(#gC)"/>
<circle cx="667.8" cy="203.4" r="2.20" fill="url(#gC)"/>
<circle cx="667.8" cy="204.9" r="2.20" fill="url(#gC)"/>
<circle cx="667.8" cy="206.4" r="2.20" fill="url(#gC)"/>
<circle cx="667.8" cy="207.8" r="2.20" fill="url(#gC)"/>
<circle cx="667.8" cy="206.0" r="3.00" fill="url(#gC)"/>
<circle cx="668.0" cy="209.5" r="4.20" fill="url(#gC)"/>
<circle cx="668.1" cy="213.0" r="4.80" fill="url(#gC)"/>
<circle cx="668.0" cy="216.5" r="5.00" fill="url(#gC)"/>
<circle cx="667.8" cy="219.3" r="4.50" fill="url(#gC)"/>
<circle cx="667.8" cy="221.5" r="3.25" fill="url(#gC)"/>
<circle cx="667.6" cy="229.5" r="1.50" fill="url(#gC)"/>
<circle cx="667.6" cy="230.6" r="1.50" fill="url(#gC)"/>
<circle cx="667.6" cy="231.8" r="1.50" fill="url(#gC)"/>
<circle cx="667.6" cy="232.9" r="1.50" fill="url(#gC)"/>
<circle cx="667.6" cy="234.0" r="1.50" fill="url(#gC)"/>
<circle cx="667.6" cy="235.2" r="1.50" fill="url(#gC)"/>
<circle cx="667.6" cy="236.3" r="1.50" fill="url(#gC)"/>
<ellipse cx="718.2" cy="51.4" rx="6.3" ry="7" fill="#fdf47c"/>
<ellipse cx="718.2" cy="83.7" rx="6.3" ry="7" fill="#16dc8a"/>
<ellipse cx="718.2" cy="123.1" rx="6.3" ry="7" fill="#fb0d0d"/>
<ellipse cx="718.2" cy="156.3" rx="6.3" ry="7" fill="#1aa8e8"/>
<path d="M752.8,36.8 L760.6,40.9 L760.6,50.7 L752.8,55.2 L744.7,50.7 L744.7,41.3 Z" fill="none" stroke="#3c3c3c" stroke-width="0.9" stroke-linejoin="round"/>
<path d="M746.0,42.5 L746.0,49.5" fill="none" stroke="#444" stroke-width="0.7" stroke-linejoin="round"/>
<path d="M753.3,38.5 L758.9,41.5" fill="none" stroke="#444" stroke-width="0.7" stroke-linejoin="round"/>
<path d="M758.9,50.2 L753.2,53.5" fill="none" stroke="#444" stroke-width="0.7" stroke-linejoin="round"/>
<path d="M760.6,40.9 L769.6,39.3" fill="none" stroke="#3c3c3c" stroke-width="0.8" stroke-linejoin="round"/>
<path d="M769.6,39.3 L773.4,44.9" fill="none" stroke="#3c3c3c" stroke-width="0.8" stroke-linejoin="round"/>
<path d="M773.4,48.3 L770.7,52.3" fill="none" stroke="#3c3c3c" stroke-width="0.8" stroke-linejoin="round"/>
<path d="M767.7,53.3 L760.6,50.7" fill="none" stroke="#3c3c3c" stroke-width="0.8" stroke-linejoin="round"/>
<path d="M768.9,40.5 L773.2,46.8" fill="none" stroke="#3c3c3c" stroke-width="0.7" stroke-linejoin="round"/>
<path d="M769.6,39.3 L771.0,33.5" fill="none" stroke="#3c3c3c" stroke-width="0.8" stroke-linejoin="round"/>
<path d="M744.7,50.7 L738.5,54.8" fill="none" stroke="#3c3c3c" stroke-width="0.8" stroke-linejoin="round"/>
<text x="776" y="33.2" font-family="&quot;Liberation Sans&quot;, sans-serif" font-size="6" fill="#2a2a2a" text-anchor="middle" font-weight="normal" >NH<tspan font-size="4.2" dy="1">2</tspan></text>
<text x="774.8" y="48.6" font-family="&quot;Liberation Sans&quot;, sans-serif" font-size="6.4" fill="#2a2a2a" text-anchor="middle" font-weight="normal" >N</text>
<text x="769.2" y="56.2" font-family="&quot;Liberation Sans&quot;, sans-serif" font-size="6.4" fill="#2a2a2a" text-anchor="middle" font-weight="normal" >N</text>
<text x="769.2" y="61.2" font-family="&quot;Liberation Sans&quot;, sans-serif" font-size="6.4" fill="#2a2a2a" text-anchor="middle" font-weight="normal" >H</text>
<text x="736.6" y="57.4" font-family="&quot;Liberation Sans&quot;, sans-serif" font-size="6.4" fill="#2a2a2a" text-anchor="middle" font-weight="normal" >F</text>
<path d="M747.9,74.0 L756.5,79.0 L756.5,88.6 L747.9,93.5 L739.4,88.6 L739.4,79.0 Z" fill="none" stroke="#3c3c3c" stroke-width="0.9" stroke-linejoin="round"/>
<path d="M740.7,80.2 L740.7,87.4" fill="none" stroke="#444" stroke-width="0.7" stroke-linejoin="round"/>
<path d="M748.3,75.8 L754.8,79.5" fill="none" stroke="#444" stroke-width="0.7" stroke-linejoin="round"/>
<path d="M754.8,88.1 L748.3,91.8" fill="none" stroke="#444" stroke-width="0.7" stroke-linejoin="round"/>
<path d="M756.5,79.0 L765.1,75.9" fill="none" stroke="#3c3c3c" stroke-width="0.8" stroke-linejoin="round"/>
<path d="M765.1,75.9 L769.3,82.4" fill="none" stroke="#3c3c3c" stroke-width="0.8" stroke-linejoin="round"/>
<path d="M769.1,85.6 L766.0,89.5" fill="none" stroke="#3c3c3c" stroke-width="0.8" stroke-linejoin="round"/>
<path d="M762.8,90.4 L756.5,88.6" fill="none" stroke="#3c3c3c" stroke-width="0.8" stroke-linejoin="round"/>
<path d="M764.4,77.1 L769.1,84.2" fill="none" stroke="#3c3c3c" stroke-width="0.7" stroke-linejoin="round"/>
<path d="M765.1,75.9 L766.5,71.0" fill="none" stroke="#3c3c3c" stroke-width="0.8" stroke-linejoin="round"/>
<text x="770.8" y="71" font-family="&quot;Liberation Sans&quot;, sans-serif" font-size="6.6" fill="#2a2a2a" text-anchor="middle" font-weight="normal" >NH<tspan font-size="4.4" dy="1">2</tspan></text>
<text x="770.6" y="86.2" font-family="&quot;Liberation Sans&quot;, sans-serif" font-size="6.4" fill="#2a2a2a" text-anchor="middle" font-weight="normal" >N</text>
<text x="764.6" y="93.3" font-family="&quot;Liberation Sans&quot;, sans-serif" font-size="6.4" fill="#2a2a2a" text-anchor="middle" font-weight="normal" >N</text>
<text x="764.6" y="98.6" font-family="&quot;Liberation Sans&quot;, sans-serif" font-size="6.4" fill="#2a2a2a" text-anchor="middle" font-weight="normal" >H</text>
<path d="M752.0,113.5 L755.8,119.6" fill="none" stroke="#3c3c3c" stroke-width="0.8" stroke-linejoin="round"/>
<path d="M755.6,122.9 L752.9,126.2" fill="none" stroke="#3c3c3c" stroke-width="0.8" stroke-linejoin="round"/>
<path d="M749.7,127.2 L743.4,125.4" fill="none" stroke="#3c3c3c" stroke-width="0.8" stroke-linejoin="round"/>
<path d="M743.4,125.4 L743.4,116.4 L752.0,113.5" fill="none" stroke="#3c3c3c" stroke-width="0.9" stroke-linejoin="round"/>
<path d="M751.3,114.6 L755.6,121.4" fill="none" stroke="#3c3c3c" stroke-width="0.7" stroke-linejoin="round"/>
<path d="M744.6,124.6 L744.6,117.2" fill="none" stroke="#3c3c3c" stroke-width="0.7" stroke-linejoin="round"/>
<path d="M752.0,113.5 L753.6,108.6" fill="none" stroke="#3c3c3c" stroke-width="0.8" stroke-linejoin="round"/>
<text x="757.8" y="108.4" font-family="&quot;Liberation Sans&quot;, sans-serif" font-size="6.6" fill="#2a2a2a" text-anchor="middle" font-weight="normal" >NH<tspan font-size="4.4" dy="1">2</tspan></text>
<text x="757.2" y="123.3" font-family="&quot;Liberation Sans&quot;, sans-serif" font-size="6.4" fill="#2a2a2a" text-anchor="middle" font-weight="normal" >N</text>
<text x="751.6" y="130.1" font-family="&quot;Liberation Sans&quot;, sans-serif" font-size="6.4" fill="#2a2a2a" text-anchor="middle" font-weight="normal" >N</text>
<text x="751.6" y="136.2" font-family="&quot;Liberation Sans&quot;, sans-serif" font-size="6.4" fill="#2a2a2a" text-anchor="middle" font-weight="normal" >H</text>
<path d="M764.9,146.5 L769.3,153.4" fill="none" stroke="#3c3c3c" stroke-width="0.8" stroke-linejoin="round"/>
<path d="M769.1,156.6 L765.6,160.9" fill="none" stroke="#3c3c3c" stroke-width="0.8" stroke-linejoin="round"/>
<path d="M762.4,161.9 L755.7,160.0" fill="none" stroke="#3c3c3c" stroke-width="0.8" stroke-linejoin="round"/>
<path d="M755.7,160.0 L755.7,150.2 L764.9,146.5" fill="none" stroke="#3c3c3c" stroke-width="0.9" stroke-linejoin="round"/>
<path d="M764.2,147.7 L769.1,155.2" fill="none" stroke="#3c3c3c" stroke-width="0.7" stroke-linejoin="round"/>
<path d="M756.9,159.2 L756.9,151.0" fill="none" stroke="#3c3c3c" stroke-width="0.7" stroke-linejoin="round"/>
<path d="M764.9,146.5 L766.0,141.6" fill="none" stroke="#3c3c3c" stroke-width="0.8" stroke-linejoin="round"/>
<path d="M755.7,160.0 L748.6,165.4" fill="none" stroke="#3c3c3c" stroke-width="0.8" stroke-linejoin="round"/>
<text x="771.2" y="141.4" font-family="&quot;Liberation Sans&quot;, sans-serif" font-size="6.6" fill="#2a2a2a" text-anchor="middle" font-weight="normal" >NH<tspan font-size="4.4" dy="1">2</tspan></text>
<text x="770.8" y="157.4" font-family="&quot;Liberation Sans&quot;, sans-serif" font-size="6.4" fill="#2a2a2a" text-anchor="middle" font-weight="normal" >N</text>
<text x="764.2" y="164.6" font-family="&quot;Liberation Sans&quot;, sans-serif" font-size="6.4" fill="#2a2a2a" text-anchor="middle" font-weight="normal" >N</text>
<text x="764.2" y="171.9" font-family="&quot;Liberation Sans&quot;, sans-serif" font-size="6.4" fill="#2a2a2a" text-anchor="middle" font-weight="normal" >H</text>
<text x="743.2" y="169.2" font-family="&quot;Liberation Sans&quot;, sans-serif" font-size="6.8" fill="#2a2a2a" text-anchor="middle" font-weight="normal" >tBu</text>
<text x="314.2" y="322.90000000000003" font-family="&quot;Liberation Sans&quot;, sans-serif" font-size="5.2" fill="#0a0a0a" text-anchor="middle" font-weight="bold" >Cl</text>
<path d="M317.4,322.4 L324.3,325.7" fill="none" stroke="#161616" stroke-width="0.95" stroke-linejoin="round"/>
<path d="M324.3,325.7 L331.4,321.4" fill="none" stroke="#161616" stroke-width="0.95" stroke-linejoin="round"/>
<path d="M331.4,321.4 L331.4,313.4" fill="none" stroke="#161616" stroke-width="0.95" stroke-linejoin="round"/>
<path d="M332.6,321.4 L332.6,313.4" fill="none" stroke="#161616" stroke-width="0.6" stroke-linejoin="round"/>
<text x="331.4" y="313.40000000000003" font-family="&quot;Liberation Sans&quot;, sans-serif" font-size="5.2" fill="#0a0a0a" text-anchor="middle" font-weight="bold" >O</text>
<path d="M331.4,321.4 L337.4,323.6" fill="none" stroke="#161616" stroke-width="0.95" stroke-linejoin="round"/>
<text x="339.3" y="326.3" font-family="&quot;Liberation Sans&quot;, sans-serif" font-size="5.2" fill="#0a0a0a" text-anchor="middle" font-weight="bold" >N</text>
<text x="339.3" y="331.7" font-family="&quot;Liberation Sans&quot;, sans-serif" font-size="5.2" fill="#0a0a0a" text-anchor="middle" font-weight="bold" >H</text>
<path d="M355.0,307.9 L362.1,312.1 L362.1,320.7 L355.0,325.0 L347.1,320.7 L347.1,312.1 Z" fill="none" stroke="#161616" stroke-width="0.95" stroke-linejoin="round"/>
<path d="M355.3,309.4 L360.7,312.5" fill="none" stroke="#161616" stroke-width="0.6" stroke-linejoin="round"/>
<path d="M360.7,320.3 L355.3,323.5" fill="none" stroke="#161616" stroke-width="0.6" stroke-linejoin="round"/>
<path d="M348.2,319.7 L348.2,313.1" fill="none" stroke="#161616" stroke-width="0.6" stroke-linejoin="round"/>
<path d="M341.1,323.5 L347.1,320.7" fill="none" stroke="#161616" stroke-width="0.95" stroke-linejoin="round"/>
<path d="M362.1,320.7 L370.0,325.7" fill="none" stroke="#161616" stroke-width="0.95" stroke-linejoin="round"/>
<path d="M370.0,325.7 L375.5,321.9" fill="none" stroke="#161616" stroke-width="0.95" stroke-linejoin="round"/>
<text x="377.1" y="322.7" font-family="&quot;Liberation Sans&quot;, sans-serif" font-size="5.2" fill="#0a0a0a" text-anchor="middle" font-weight="bold" >N</text>
<text x="377.1" y="316.5" font-family="&quot;Liberation Sans&quot;, sans-serif" font-size="5.2" fill="#0a0a0a" text-anchor="middle" font-weight="bold" >H</text>
<path d="M378.8,321.7 L383.9,324.5" fill="none" stroke="#161616" stroke-width="0.95" stroke-linejoin="round"/>
<path d="M383.9,324.5 L390.3,321.3" fill="none" stroke="#161616" stroke-width="0.95" stroke-linejoin="round"/>
<path d="M393.7,321.2 L400.2,324.5" fill="none" stroke="#161616" stroke-width="0.95" stroke-linejoin="round"/>
<path d="M400.2,324.5 L400.2,332.4" fill="none" stroke="#161616" stroke-width="0.95" stroke-linejoin="round"/>
<path d="M398.6,335.3 L392.0,339.2" fill="none" stroke="#161616" stroke-width="0.95" stroke-linejoin="round"/>
<path d="M392.0,339.2 L385.5,335.3" fill="none" stroke="#161616" stroke-width="0.95" stroke-linejoin="round"/>
<path d="M383.9,332.4 L383.9,324.5" fill="none" stroke="#161616" stroke-width="0.95" stroke-linejoin="round"/>
<path d="M385.8,324.8 L391.1,322.1" fill="none" stroke="#161616" stroke-width="0.6" stroke-linejoin="round"/>
<path d="M399.1,326.1 L399.1,332.7" fill="none" stroke="#161616" stroke-width="0.6" stroke-linejoin="round"/>
<path d="M391.2,337.4 L385.8,334.2" fill="none" stroke="#161616" stroke-width="0.6" stroke-linejoin="round"/>
<text x="392" y="322.4" font-family="&quot;Liberation Sans&quot;, sans-serif" font-size="5.2" fill="#0a0a0a" text-anchor="middle" font-weight="bold" >N</text>
<text x="400.2" y="336.3" font-family="&quot;Liberation Sans&quot;, sans-serif" font-size="5.2" fill="#0a0a0a" text-anchor="middle" font-weight="bold" >N</text>
<text x="383.9" y="336.3" font-family="&quot;Liberation Sans&quot;, sans-serif" font-size="5.2" fill="#0a0a0a" text-anchor="middle" font-weight="bold" >N</text>
<path d="M400.2,324.5 L405.9,321.4" fill="none" stroke="#161616" stroke-width="0.95" stroke-linejoin="round"/>
<text x="407.6" y="322.40000000000003" font-family="&quot;Liberation Sans&quot;, sans-serif" font-size="5.2" fill="#0a0a0a" text-anchor="middle" font-weight="bold" >N</text>
<text x="407.6" y="316.7" font-family="&quot;Liberation Sans&quot;, sans-serif" font-size="5.2" fill="#0a0a0a" text-anchor="middle" font-weight="bold" >H</text>
<path d="M409.3,321.5 L414.9,325.3" fill="none" stroke="#161616" stroke-width="0.95" stroke-linejoin="round"/>
<path d="M392.0,339.2 L392.0,344.6" fill="none" stroke="#161616" stroke-width="0.95" stroke-linejoin="round"/>
<text x="390.4" y="349.3" font-family="&quot;Liberation Sans&quot;, sans-serif" font-size="5.2" fill="#0a0a0a" text-anchor="middle" font-weight="bold" >HN</text>
<path d="M393.6,348.0 L400.2,351.4" fill="none" stroke="#161616" stroke-width="0.95" stroke-linejoin="round"/>
<path d="M400.2,351.4 L406.7,347.3" fill="none" stroke="#161616" stroke-width="0.95" stroke-linejoin="round"/>
<path d="M406.7,347.3 L413.3,353.1" fill="none" stroke="#161616" stroke-width="0.95" stroke-linejoin="round"/>
<path d="M413.3,353.1 L412.0,359.2" fill="none" stroke="#161616" stroke-width="0.95" stroke-linejoin="round"/>
<path d="M408.2,361.2 L403.8,361.2" fill="none" stroke="#161616" stroke-width="0.95" stroke-linejoin="round"/>
<path d="M401.5,359.2 L400.2,351.4" fill="none" stroke="#161616" stroke-width="0.95" stroke-linejoin="round"/>
<path d="M406.6,348.7 L412.0,353.4" fill="none" stroke="#161616" stroke-width="0.6" stroke-linejoin="round"/>
<path d="M402.8,360.2 L401.4,352.0" fill="none" stroke="#161616" stroke-width="0.6" stroke-linejoin="round"/>
<text x="401.5" y="363.2" font-family="&quot;Liberation Sans&quot;, sans-serif" font-size="5.2" fill="#0a0a0a" text-anchor="middle" font-weight="bold" >N</text>
<text x="413.20000000000005" y="363.2" font-family="&quot;Liberation Sans&quot;, sans-serif" font-size="5.2" fill="#0a0a0a" text-anchor="middle" font-weight="bold" >NH</text>
<path d="M413.3,353.1 L421.0,353.2" fill="none" stroke="#161616" stroke-width="0.95" stroke-linejoin="round"/>
<text x="426.6" y="355.7" font-family="&quot;Liberation Sans&quot;, sans-serif" font-size="5.6" fill="#0a0a0a" text-anchor="middle" font-weight="bold" >tBu</text>
<text x="357.2" y="356.90000000000003" font-family="&quot;Liberation Sans&quot;, sans-serif" font-size="6.4" fill="#0a0a0a" text-anchor="middle" font-weight="bold" >2</text>
<text x="435.3" y="309.90000000000003" font-family="&quot;Liberation Sans&quot;, sans-serif" font-size="5.2" fill="#0a0a0a" text-anchor="middle" font-weight="bold" >Cl</text>
<path d="M438.6,309.0 L444.6,311.3" fill="none" stroke="#161616" stroke-width="0.95" stroke-linejoin="round"/>
<path d="M444.6,311.3 L452.0,307.3" fill="none" stroke="#161616" stroke-width="0.95" stroke-linejoin="round"/>
<path d="M452.0,307.3 L452.0,300.3" fill="none" stroke="#161616" stroke-width="0.95" stroke-linejoin="round"/>
<path d="M453.2,307.3 L453.2,300.2" fill="none" stroke="#161616" stroke-width="0.6" stroke-linejoin="round"/>
<text x="452" y="300.3" font-family="&quot;Liberation Sans&quot;, sans-serif" font-size="5.2" fill="#0a0a0a" text-anchor="middle" font-weight="bold" >O</text>
<path d="M452.0,307.3 L459.2,311.5" fill="none" stroke="#161616" stroke-width="0.95" stroke-linejoin="round"/>
<text x="463" y="313.8" font-family="&quot;Liberation Sans&quot;, sans-serif" font-size="5.2" fill="#0a0a0a" text-anchor="middle" font-weight="bold" >NH</text>
<path d="M460.8,313.6 L460.1,320.3" fill="none" stroke="#161616" stroke-width="0.95" stroke-linejoin="round"/>
<path d="M460.1,320.3 L454.0,323.6" fill="none" stroke="#161616" stroke-width="0.95" stroke-linejoin="round"/>
<text x="450" y="326.7" font-family="&quot;Liberation Sans&quot;, sans-serif" font-size="5.2" fill="#0a0a0a" text-anchor="middle" font-weight="bold" >Ph</text>
<path d="M460.1,320.3 L468.3,325.2" fill="none" stroke="#161616" stroke-width="0.95" stroke-linejoin="round"/>
<path d="M468.3,325.2 L473.2,321.5" fill="none" stroke="#161616" stroke-width="0.95" stroke-linejoin="round"/>
<text x="474.8" y="322.3" font-family="&quot;Liberation Sans&quot;, sans-serif" font-size="5.2" fill="#0a0a0a" text-anchor="middle" font-weight="bold" >N</text>
<text x="474.8" y="316.5" font-family="&quot;Liberation Sans&quot;, sans-serif" font-size="5.2" fill="#0a0a0a" text-anchor="middle" font-weight="bold" >H</text>
<path d="M476.5,321.3 L482.2,324.4" fill="none" stroke="#161616" stroke-width="0.95" stroke-linejoin="round"/>
<path d="M482.2,324.4 L487.8,321.2" fill="none" stroke="#161616" stroke-width="0.95" stroke-linejoin="round"/>
<path d="M491.2,321.1 L497.7,324.4" fill="none" stroke="#161616" stroke-width="0.95" stroke-linejoin="round"/>
<path d="M497.7,324.4 L497.7,332.3" fill="none" stroke="#161616" stroke-width="0.95" stroke-linejoin="round"/>
<path d="M496.0,335.0 L489.5,338.3" fill="none" stroke="#161616" stroke-width="0.95" stroke-linejoin="round"/>
<path d="M489.5,338.3 L483.9,335.1" fill="none" stroke="#161616" stroke-width="0.95" stroke-linejoin="round"/>
<path d="M482.2,332.3 L482.2,324.4" fill="none" stroke="#161616" stroke-width="0.95" stroke-linejoin="round"/>
<path d="M484.1,324.6 L488.6,322.0" fill="none" stroke="#161616" stroke-width="0.6" stroke-linejoin="round"/>
<path d="M496.6,326.0 L496.6,332.6" fill="none" stroke="#161616" stroke-width="0.6" stroke-linejoin="round"/>
<path d="M488.6,336.6 L484.1,334.0" fill="none" stroke="#161616" stroke-width="0.6" stroke-linejoin="round"/>
<text x="489.5" y="322.3" font-family="&quot;Liberation Sans&quot;, sans-serif" font-size="5.2" fill="#0a0a0a" text-anchor="middle" font-weight="bold" >N</text>
<text x="497.7" y="336.2" font-family="&quot;Liberation Sans&quot;, sans-serif" font-size="5.2" fill="#0a0a0a" text-anchor="middle" font-weight="bold" >N</text>
<text x="482.2" y="336.2" font-family="&quot;Liberation Sans&quot;, sans-serif" font-size="5.2" fill="#0a0a0a" text-anchor="middle" font-weight="bold" >N</text>
<path d="M497.7,324.4 L503.3,321.3" fill="none" stroke="#161616" stroke-width="0.95" stroke-linejoin="round"/>
<text x="505" y="322.3" font-family="&quot;Liberation Sans&quot;, sans-serif" font-size="5.2" fill="#0a0a0a" text-anchor="middle" font-weight="bold" >N</text>
<text x="505" y="316.5" font-family="&quot;Liberation Sans&quot;, sans-serif" font-size="5.2" fill="#0a0a0a" text-anchor="middle" font-weight="bold" >H</text>
<path d="M506.7,321.3 L513.2,325.2" fill="none" stroke="#161616" stroke-width="0.95" stroke-linejoin="round"/>
<path d="M489.5,338.3 L489.5,344.0" fill="none" stroke="#161616" stroke-width="0.95" stroke-linejoin="round"/>
<text x="487.6" y="348.6" font-family="&quot;Liberation Sans&quot;, sans-serif" font-size="5.2" fill="#0a0a0a" text-anchor="middle" font-weight="bold" >HN</text>
<path d="M491.0,347.4 L497.7,350.6" fill="none" stroke="#161616" stroke-width="0.95" stroke-linejoin="round"/>
<path d="M497.7,350.6 L505.0,347.3" fill="none" stroke="#161616" stroke-width="0.95" stroke-linejoin="round"/>
<path d="M505.0,347.3 L512.4,352.2" fill="none" stroke="#161616" stroke-width="0.95" stroke-linejoin="round"/>
<path d="M512.4,352.2 L511.2,358.4" fill="none" stroke="#161616" stroke-width="0.95" stroke-linejoin="round"/>
<path d="M507.4,360.4 L502.2,360.4" fill="none" stroke="#161616" stroke-width="0.95" stroke-linejoin="round"/>
<path d="M499.7,358.5 L497.7,350.6" fill="none" stroke="#161616" stroke-width="0.95" stroke-linejoin="round"/>
<path d="M505.1,348.7 L511.1,352.7" fill="none" stroke="#161616" stroke-width="0.6" stroke-linejoin="round"/>
<path d="M501.1,359.4 L499.0,351.1" fill="none" stroke="#161616" stroke-width="0.6" stroke-linejoin="round"/>
<text x="499.9" y="362.4" font-family="&quot;Liberation Sans&quot;, sans-serif" font-size="5.2" fill="#0a0a0a" text-anchor="middle" font-weight="bold" >N</text>
<text x="512.4" y="362.4" font-family="&quot;Liberation Sans&quot;, sans-serif" font-size="5.2" fill="#0a0a0a" text-anchor="middle" font-weight="bold" >NH</text>
<path d="M512.4,352.2 L518.0,352.6" fill="none" stroke="#161616" stroke-width="0.95" stroke-linejoin="round"/>
<text x="523.8" y="355.5" font-family="&quot;Liberation Sans&quot;, sans-serif" font-size="5.6" fill="#0a0a0a" text-anchor="middle" font-weight="bold" >tBu</text>
<text x="456.4" y="357.1" font-family="&quot;Liberation Sans&quot;, sans-serif" font-size="6.4" fill="#0a0a0a" text-anchor="middle" font-weight="bold" >3</text>
<path d="M529.0,320.3 L536.3,324.4" fill="none" stroke="#161616" stroke-width="0.95" stroke-linejoin="round"/>
<path d="M530.0,319.6 L536.4,323.2" fill="none" stroke="#161616" stroke-width="0.6" stroke-linejoin="round"/>
<path d="M536.3,324.4 L543.7,320.3" fill="none" stroke="#161616" stroke-width="0.95" stroke-linejoin="round"/>
<path d="M543.7,320.3 L543.7,313.3" fill="none" stroke="#161616" stroke-width="0.95" stroke-linejoin="round"/>
<path d="M544.9,320.3 L544.9,313.2" fill="none" stroke="#161616" stroke-width="0.6" stroke-linejoin="round"/>
<text x="543.7" y="313.40000000000003" font-family="&quot;Liberation Sans&quot;, sans-serif" font-size="5.2" fill="#0a0a0a" text-anchor="middle" font-weight="bold" >O</text>
<path d="M543.7,320.3 L549.2,322.8" fill="none" stroke="#161616" stroke-width="0.95" stroke-linejoin="round"/>
<text x="551" y="325.6" font-family="&quot;Liberation Sans&quot;, sans-serif" font-size="5.2" fill="#0a0a0a" text-anchor="middle" font-weight="bold" >N</text>
<text x="551" y="331.3" font-family="&quot;Liberation Sans&quot;, sans-serif" font-size="5.2" fill="#0a0a0a" text-anchor="middle" font-weight="bold" >H</text>
<path d="M566.5,308.1 L573.9,312.1 L573.9,321.1 L566.5,325.2 L559.2,321.1 L559.2,312.1 Z" fill="none" stroke="#161616" stroke-width="0.95" stroke-linejoin="round"/>
<path d="M566.9,309.5 L572.5,312.6" fill="none" stroke="#161616" stroke-width="0.6" stroke-linejoin="round"/>
<path d="M572.5,320.6 L566.8,323.8" fill="none" stroke="#161616" stroke-width="0.6" stroke-linejoin="round"/>
<path d="M560.3,320.1 L560.3,313.1" fill="none" stroke="#161616" stroke-width="0.6" stroke-linejoin="round"/>
<path d="M552.9,323.0 L559.2,321.1" fill="none" stroke="#161616" stroke-width="0.95" stroke-linejoin="round"/>
<path d="M573.9,321.1 L582.0,325.2" fill="none" stroke="#161616" stroke-width="0.95" stroke-linejoin="round"/>
<path d="M582.0,325.2 L587.7,321.4" fill="none" stroke="#161616" stroke-width="0.95" stroke-linejoin="round"/>
<text x="589.4" y="322.3" font-family="&quot;Liberation Sans&quot;, sans-serif" font-size="5.2" fill="#0a0a0a" text-anchor="middle" font-weight="bold" >N</text>
<text x="589.4" y="316.5" font-family="&quot;Liberation Sans&quot;, sans-serif" font-size="5.2" fill="#0a0a0a" text-anchor="middle" font-weight="bold" >H</text>
<path d="M591.1,321.3 L596.7,324.4" fill="none" stroke="#161616" stroke-width="0.95" stroke-linejoin="round"/>
<path d="M596.7,324.4 L602.4,321.2" fill="none" stroke="#161616" stroke-width="0.95" stroke-linejoin="round"/>
<path d="M605.8,321.2 L612.2,324.4" fill="none" stroke="#161616" stroke-width="0.95" stroke-linejoin="round"/>
<path d="M612.2,324.4 L612.2,331.5" fill="none" stroke="#161616" stroke-width="0.95" stroke-linejoin="round"/>
<path d="M610.6,334.4 L604.1,338.3" fill="none" stroke="#161616" stroke-width="0.95" stroke-linejoin="round"/>
<path d="M604.1,338.3 L598.3,334.4" fill="none" stroke="#161616" stroke-width="0.95" stroke-linejoin="round"/>
<path d="M596.7,331.5 L596.7,324.4" fill="none" stroke="#161616" stroke-width="0.95" stroke-linejoin="round"/>
<path d="M598.6,324.6 L603.2,322.0" fill="none" stroke="#161616" stroke-width="0.6" stroke-linejoin="round"/>
<path d="M611.1,326.0 L611.1,331.8" fill="none" stroke="#161616" stroke-width="0.6" stroke-linejoin="round"/>
<path d="M603.4,336.5 L598.6,333.4" fill="none" stroke="#161616" stroke-width="0.6" stroke-linejoin="round"/>
<text x="604.1" y="322.3" font-family="&quot;Liberation Sans&quot;, sans-serif" font-size="5.2" fill="#0a0a0a" text-anchor="middle" font-weight="bold" >N</text>
<text x="612.2" y="335.4" font-family="&quot;Liberation Sans&quot;, sans-serif" font-size="5.2" fill="#0a0a0a" text-anchor="middle" font-weight="bold" >N</text>
<text x="596.7" y="335.4" font-family="&quot;Liberation Sans&quot;, sans-serif" font-size="5.2" fill="#0a0a0a" text-anchor="middle" font-weight="bold" >N</text>
<path d="M612.2,324.4 L617.9,321.3" fill="none" stroke="#161616" stroke-width="0.95" stroke-linejoin="round"/>
<text x="619.6" y="322.3" font-family="&quot;Liberation Sans&quot;, sans-serif" font-size="5.2" fill="#0a0a0a" text-anchor="middle" font-weight="bold" >N</text>
<text x="619.6" y="316.5" font-family="&quot;Liberation Sans&quot;, sans-serif" font-size="5.2" fill="#0a0a0a" text-anchor="middle" font-weight="bold" >H</text>
<path d="M621.4,321.2 L627.8,324.4" fill="none" stroke="#161616" stroke-width="0.95" stroke-linejoin="round"/>
<path d="M604.1,338.3 L604.1,343.4" fill="none" stroke="#161616" stroke-width="0.95" stroke-linejoin="round"/>
<text x="602.8" y="347.90000000000003" font-family="&quot;Liberation Sans&quot;, sans-serif" font-size="5.2" fill="#0a0a0a" text-anchor="middle" font-weight="bold" >HN</text>
<path d="M606.6,347.0 L613.0,350.5" fill="none" stroke="#161616" stroke-width="0.95" stroke-linejoin="round"/>
<path d="M613.0,350.5 L620.4,347.2" fill="none" stroke="#161616" stroke-width="0.95" stroke-linejoin="round"/>
<path d="M620.4,347.2 L627.8,352.1" fill="none" stroke="#161616" stroke-width="0.95" stroke-linejoin="round"/>
<path d="M627.8,352.1 L625.9,358.4" fill="none" stroke="#161616" stroke-width="0.95" stroke-linejoin="round"/>
<path d="M621.9,360.3 L615.9,360.3" fill="none" stroke="#161616" stroke-width="0.95" stroke-linejoin="round"/>
<path d="M613.7,358.3 L613.0,350.5" fill="none" stroke="#161616" stroke-width="0.95" stroke-linejoin="round"/>
<path d="M620.5,348.6 L626.5,352.6" fill="none" stroke="#161616" stroke-width="0.6" stroke-linejoin="round"/>
<path d="M614.9,359.4 L614.2,351.2" fill="none" stroke="#161616" stroke-width="0.6" stroke-linejoin="round"/>
<text x="613.6" y="362.3" font-family="&quot;Liberation Sans&quot;, sans-serif" font-size="5.2" fill="#0a0a0a" text-anchor="middle" font-weight="bold" >N</text>
<text x="626.9" y="362.3" font-family="&quot;Liberation Sans&quot;, sans-serif" font-size="5.2" fill="#0a0a0a" text-anchor="middle" font-weight="bold" >NH</text>
<path d="M627.8,352.1 L631.6,352.4" fill="none" stroke="#161616" stroke-width="0.95" stroke-linejoin="round"/>
<text x="636.2" y="354.5" font-family="&quot;Liberation Sans&quot;, sans-serif" font-size="5.6" fill="#0a0a0a" text-anchor="middle" font-weight="bold" >tBu</text>
<text x="573.4" y="356.7" font-family="&quot;Liberation Sans&quot;, sans-serif" font-size="6.4" fill="#0a0a0a" text-anchor="middle" font-weight="bold" >4</text>
<line x1="347.4" y1="376.8" x2="575.8" y2="376.8" stroke="#6e6e6e" stroke-width="1.2"/>
<line x1="428" y1="390.8" x2="575.8" y2="390.8" stroke="#6e6e6e" stroke-width="1.2"/>
<line x1="347.4" y1="404.9" x2="575.8" y2="404.9" stroke="#6e6e6e" stroke-width="1.2"/>
<line x1="347.4" y1="447.6" x2="575.8" y2="447.6" stroke="#6e6e6e" stroke-width="1.2"/>
<text x="387.5" y="393.8" font-family="&quot;Liberation Serif&quot;, serif" font-size="11.3" fill="#000" text-anchor="middle" font-weight="bold" >Compound</text>
<text x="501.5" y="388.3" font-family="&quot;Liberation Serif&quot;, serif" font-size="10.8" fill="#000" text-anchor="middle" font-weight="bold" >IC<tspan font-size="6.4" dy="0.5" dx="0.6">50</tspan><tspan dy="-0.5">(nM)</tspan></text>
<path d="M503.4,389.4 q1,-1 2,0 t2,0 t2,0 t2,0 t2,0 t2,0 t2,0 t2,0" stroke="#e02a2a" stroke-width="0.8" fill="none"/>
<text x="501.3" y="401.9" font-family="&quot;Liberation Serif&quot;, serif" font-size="11" fill="#000" text-anchor="middle" font-weight="bold" >JAK3</text>
<text x="386.9" y="416" font-family="&quot;Liberation Sans&quot;, sans-serif" font-size="11" fill="#000" text-anchor="middle" font-weight="bold" >2</text>
<text x="386.9" y="430.7" font-family="&quot;Liberation Sans&quot;, sans-serif" font-size="11" fill="#000" text-anchor="middle" font-weight="bold" >3</text>
<text x="386.9" y="444.4" font-family="&quot;Liberation Sans&quot;, sans-serif" font-size="11" fill="#000" text-anchor="middle" font-weight="bold" >4</text>
<text x="501.6" y="417" font-family="&quot;Liberation Serif&quot;, serif" font-size="11.4" fill="#000" text-anchor="middle" font-weight="bold" >6.16<tspan dx="2.2" font-weight="normal" font-size="13.2">±</tspan><tspan dx="2">2.06</tspan></text>
<text x="501.6" y="429.8" font-family="&quot;Liberation Serif&quot;, serif" font-size="11.4" fill="#000" text-anchor="middle" font-weight="bold" >8.97<tspan dx="2.2" font-weight="normal" font-size="13.2">±</tspan><tspan dx="2">3.04</tspan></text>
<text x="501.6" y="443.7" font-family="&quot;Liberation Serif&quot;, serif" font-size="11.4" fill="#000" text-anchor="middle" font-weight="bold" >32.59<tspan dx="2.2" font-weight="normal" font-size="13.2">±</tspan><tspan dx="2">1.33</tspan></text>
<line x1="90.3" y1="302" x2="90.3" y2="439" stroke="#000" stroke-width="1.5"/>
<line x1="89.6" y1="438.3" x2="292.4" y2="438.3" stroke="#000" stroke-width="1.5"/>
<line x1="86.3" y1="427.3" x2="90.3" y2="427.3" stroke="#000" stroke-width="1.2"/>
<text x="84.8" y="430.90000000000003" font-family="&quot;Liberation Sans&quot;, sans-serif" font-size="10.2" fill="#000" text-anchor="end" font-weight="normal" >0</text>
<line x1="87.8" y1="406.5" x2="90.3" y2="406.5" stroke="#000" stroke-width="1.2"/>
<line x1="86.3" y1="385.8" x2="90.3" y2="385.8" stroke="#000" stroke-width="1.2"/>
<text x="84.8" y="389.38000000000005" font-family="&quot;Liberation Sans&quot;, sans-serif" font-size="10.2" fill="#000" text-anchor="end" font-weight="normal" >40</text>
<line x1="87.8" y1="365.0" x2="90.3" y2="365.0" stroke="#000" stroke-width="1.2"/>
<line x1="86.3" y1="344.3" x2="90.3" y2="344.3" stroke="#000" stroke-width="1.2"/>
<text x="84.8" y="347.86" font-family="&quot;Liberation Sans&quot;, sans-serif" font-size="10.2" fill="#000" text-anchor="end" font-weight="normal" >80</text>
<line x1="87.8" y1="323.5" x2="90.3" y2="323.5" stroke="#000" stroke-width="1.2"/>
<line x1="86.3" y1="302.7" x2="90.3" y2="302.7" stroke="#000" stroke-width="1.2"/>
<text x="84.8" y="306.34000000000003" font-family="&quot;Liberation Sans&quot;, sans-serif" font-size="10.2" fill="#000" text-anchor="end" font-weight="normal" >120</text>
<line x1="90.2" y1="438.3" x2="90.2" y2="442.3" stroke="#000" stroke-width="1.2"/>
<text x="90.22" y="453.4" font-family="&quot;Liberation Sans&quot;, sans-serif" font-size="9.8" fill="#000" text-anchor="middle" font-weight="bold" >-2</text>
<line x1="115.4" y1="438.3" x2="115.4" y2="440.8" stroke="#000" stroke-width="1.2"/>
<line x1="140.5" y1="438.3" x2="140.5" y2="442.3" stroke="#000" stroke-width="1.2"/>
<text x="140.5" y="453.4" font-family="&quot;Liberation Sans&quot;, sans-serif" font-size="9.8" fill="#000" text-anchor="middle" font-weight="bold" >0</text>
<line x1="165.6" y1="438.3" x2="165.6" y2="440.8" stroke="#000" stroke-width="1.2"/>
<line x1="190.8" y1="438.3" x2="190.8" y2="442.3" stroke="#000" stroke-width="1.2"/>
<text x="190.78" y="453.4" font-family="&quot;Liberation Sans&quot;, sans-serif" font-size="9.8" fill="#000" text-anchor="middle" font-weight="bold" >2</text>
<line x1="215.9" y1="438.3" x2="215.9" y2="440.8" stroke="#000" stroke-width="1.2"/>
<line x1="241.1" y1="438.3" x2="241.1" y2="442.3" stroke="#000" stroke-width="1.2"/>
<text x="241.06" y="453.4" font-family="&quot;Liberation Sans&quot;, sans-serif" font-size="9.8" fill="#000" text-anchor="middle" font-weight="bold" >4</text>
<line x1="266.2" y1="438.3" x2="266.2" y2="440.8" stroke="#000" stroke-width="1.2"/>
<line x1="291.3" y1="438.3" x2="291.3" y2="442.3" stroke="#000" stroke-width="1.2"/>
<text x="291.34000000000003" y="453.4" font-family="&quot;Liberation Sans&quot;, sans-serif" font-size="9.8" fill="#000" text-anchor="middle" font-weight="bold" >6</text>
<text x="191" y="487.2" font-family="&quot;Liberation Sans&quot;, sans-serif" font-size="11.2" fill="#000" text-anchor="middle" font-weight="bold" >Log(Compound,nM)</text>
<text x="0" y="0" font-family="&quot;Liberation Serif&quot;, serif" font-size="13.0" fill="#000" text-anchor="middle" font-weight="bold" transform="translate(38.4,368.6) rotate(-90)">Activity rate(%)</text>
<path d="M97.8,323.5 L99.0,323.6 L100.3,323.6 L101.5,323.6 L102.8,323.6 L104.0,323.6 L105.3,323.6 L106.6,323.6 L107.8,323.7 L109.1,323.7 L110.3,323.7 L111.6,323.7 L112.8,323.8 L114.1,323.8 L115.4,323.9 L116.6,324.0 L117.9,324.0 L119.1,324.1 L120.4,324.2 L121.6,324.4 L122.9,324.5 L124.2,324.7 L125.4,324.9 L126.7,325.1 L127.9,325.3 L129.2,325.7 L130.4,326.0 L131.7,326.4 L133.0,326.9 L134.2,327.4 L135.5,328.1 L136.7,328.8 L138.0,329.6 L139.2,330.6 L140.5,331.7 L141.8,333.0 L143.0,334.4 L144.3,336.0 L145.5,337.8 L146.8,339.8 L148.0,342.1 L149.3,344.6 L150.6,347.3 L151.8,350.3 L153.1,353.5 L154.3,356.9 L155.6,360.5 L156.8,364.3 L158.1,368.2 L159.4,372.2 L160.6,376.2 L161.9,380.2 L163.1,384.2 L164.4,388.0 L165.6,391.8 L166.9,395.3 L168.2,398.6 L169.4,401.7 L170.7,404.6 L171.9,407.3 L173.2,409.6 L174.4,411.8 L175.7,413.7 L177.0,415.5 L178.2,417.0 L179.5,418.4 L180.7,419.6 L182.0,420.6 L183.2,421.5 L184.5,422.3 L185.8,423.0 L187.0,423.6 L188.3,424.1 L189.5,424.6 L190.8,424.9 L192.0,425.3 L193.3,425.6 L194.6,425.8 L195.8,426.0 L197.1,426.2 L198.3,426.4 L199.6,426.5 L200.8,426.6 L202.1,426.7 L203.4,426.8 L204.6,426.9 L205.9,426.9 L207.1,427.0 L208.4,427.0 L209.6,427.1 L210.9,427.1 L212.1,427.1 L213.4,427.2 L214.7,427.2 L215.9,427.2 L217.2,427.2 L218.4,427.2 L219.7,427.2 L220.9,427.2 L222.2,427.3 L223.5,427.3 L224.7,427.3 L226.0,427.3 L227.2,427.3 L228.5,427.3 L229.7,427.3 L231.0,427.3 L232.3,427.3 L233.5,427.3 L234.8,427.3 L236.0,427.3 L237.3,427.3 L238.5,427.3 L239.8,427.3 L241.1,427.3 L242.3,427.3 L243.6,427.3 L244.8,427.3 L246.1,427.3 L247.3,427.3 L248.6,427.3" fill="none" stroke="#000" stroke-width="1.4" stroke-linejoin="round"/>
<path d="M97.8,323.5 L99.0,323.5 L100.3,323.5 L101.5,323.5 L102.8,323.5 L104.0,323.5 L105.3,323.5 L106.6,323.5 L107.8,323.6 L109.1,323.6 L110.3,323.6 L111.6,323.6 L112.8,323.6 L114.1,323.6 L115.4,323.7 L116.6,323.7 L117.9,323.7 L119.1,323.8 L120.4,323.8 L121.6,323.9 L122.9,323.9 L124.2,324.0 L125.4,324.1 L126.7,324.2 L127.9,324.3 L129.2,324.5 L130.4,324.6 L131.7,324.8 L133.0,325.1 L134.2,325.3 L135.5,325.7 L136.7,326.0 L138.0,326.5 L139.2,327.0 L140.5,327.6 L141.8,328.4 L143.0,329.2 L144.3,330.2 L145.5,331.3 L146.8,332.6 L148.0,334.0 L149.3,335.7 L150.6,337.6 L151.8,339.8 L153.1,342.2 L154.3,344.9 L155.6,347.9 L156.8,351.2 L158.1,354.7 L159.4,358.5 L160.6,362.4 L161.9,366.6 L163.1,370.8 L164.4,375.1 L165.6,379.5 L166.9,383.7 L168.2,387.9 L169.4,391.9 L170.7,395.7 L171.9,399.2 L173.2,402.5 L174.4,405.5 L175.7,408.2 L177.0,410.7 L178.2,412.9 L179.5,414.9 L180.7,416.6 L182.0,418.1 L183.2,419.4 L184.5,420.5 L185.8,421.5 L187.0,422.4 L188.3,423.1 L189.5,423.7 L190.8,424.2 L192.0,424.7 L193.3,425.1 L194.6,425.4 L195.8,425.7 L197.1,426.0 L198.3,426.2 L199.6,426.3 L200.8,426.5 L202.1,426.6 L203.4,426.7 L204.6,426.8 L205.9,426.9 L207.1,426.9 L208.4,427.0 L209.6,427.0 L210.9,427.1 L212.1,427.1 L213.4,427.1 L214.7,427.2 L215.9,427.2 L217.2,427.2 L218.4,427.2 L219.7,427.2 L220.9,427.2 L222.2,427.3 L223.5,427.3 L224.7,427.3 L226.0,427.3 L227.2,427.3 L228.5,427.3 L229.7,427.3 L231.0,427.3 L232.3,427.3 L233.5,427.3 L234.8,427.3 L236.0,427.3 L237.3,427.3 L238.5,427.3 L239.8,427.3 L241.1,427.3 L242.3,427.3 L243.6,427.3 L244.8,427.3 L246.1,427.3 L247.3,427.3 L248.6,427.3" fill="none" stroke="#000" stroke-width="1.4" stroke-linejoin="round"/>
<path d="M97.8,323.5 L99.0,323.5 L100.3,323.5 L101.5,323.5 L102.8,323.5 L104.0,323.5 L105.3,323.5 L106.6,323.5 L107.8,323.5 L109.1,323.5 L110.3,323.5 L111.6,323.5 L112.8,323.6 L114.1,323.6 L115.4,323.6 L116.6,323.6 L117.9,323.6 L119.1,323.6 L120.4,323.6 L121.6,323.7 L122.9,323.7 L124.2,323.7 L125.4,323.7 L126.7,323.8 L127.9,323.8 L129.2,323.9 L130.4,323.9 L131.7,324.0 L133.0,324.1 L134.2,324.1 L135.5,324.2 L136.7,324.4 L138.0,324.5 L139.2,324.6 L140.5,324.8 L141.8,325.0 L143.0,325.2 L144.3,325.5 L145.5,325.8 L146.8,326.2 L148.0,326.6 L149.3,327.0 L150.6,327.6 L151.8,328.2 L153.1,328.8 L154.3,329.6 L155.6,330.5 L156.8,331.5 L158.1,332.6 L159.4,333.9 L160.6,335.3 L161.9,336.9 L163.1,338.7 L164.4,340.6 L165.6,342.8 L166.9,345.2 L168.2,347.7 L169.4,350.5 L170.7,353.5 L171.9,356.6 L173.2,360.0 L174.4,363.4 L175.7,367.0 L177.0,370.7 L178.2,374.4 L179.5,378.2 L180.7,381.9 L182.0,385.5 L183.2,389.0 L184.5,392.4 L185.8,395.7 L187.0,398.8 L188.3,401.6 L189.5,404.3 L190.8,406.8 L192.0,409.1 L193.3,411.1 L194.6,413.0 L195.8,414.7 L197.1,416.2 L198.3,417.5 L199.6,418.7 L200.8,419.8 L202.1,420.7 L203.4,421.6 L204.6,422.3 L205.9,422.9 L207.1,423.5 L208.4,424.0 L209.6,424.4 L210.9,424.8 L212.1,425.1 L213.4,425.4 L214.7,425.7 L215.9,425.9 L217.2,426.1 L218.4,426.2 L219.7,426.4 L220.9,426.5 L222.2,426.6 L223.5,426.7 L224.7,426.8 L226.0,426.8 L227.2,426.9 L228.5,427.0 L229.7,427.0 L231.0,427.0 L232.3,427.1 L233.5,427.1 L234.8,427.1 L236.0,427.2 L237.3,427.2 L238.5,427.2 L239.8,427.2 L241.1,427.2 L242.3,427.2 L243.6,427.2 L244.8,427.2 L246.1,427.3 L247.3,427.3 L248.6,427.3" fill="none" stroke="#000" stroke-width="1.4" stroke-linejoin="round"/>
<path d="M122.9,323 V345.8 M120.6,323 h4.6 M120.6,345.8 h4.6" stroke="#000" stroke-width="1.0" fill="none"/>
<path d="M122.9,339.5 V342.7 M120.6,339.5 h4.6 M120.6,342.7 h4.6" stroke="#000" stroke-width="1.0" fill="none"/>
<rect x="120.3" y="321.8" width="5.2" height="2.4" fill="#000"/>
<path d="M148.0,333 V350.4 M145.7,333 h4.6 M145.7,350.4 h4.6" stroke="#000" stroke-width="1.0" fill="none"/>
<path d="M173.2,396 V416.4 M170.9,396 h4.6 M170.9,416.4 h4.6" stroke="#000" stroke-width="1.0" fill="none"/>
<path d="M97.8,310 V316 M95.5,310 h4.6 M95.5,316 h4.6" stroke="#000" stroke-width="1.0" fill="none"/>
<path d="M148.0,314 V323 M145.7,314 h4.6 M145.7,323 h4.6" stroke="#000" stroke-width="1.0" fill="none"/>
<path d="M173.2,357.5 V367 M170.9,357.5 h4.6 M170.9,367 h4.6" stroke="#000" stroke-width="1.0" fill="none"/>
<circle cx="97.762" cy="313" r="2.3" fill="#fff" stroke="#000" stroke-width="1.1"/>
<circle cx="148.042" cy="319" r="2.3" fill="#fff" stroke="#000" stroke-width="1.1"/>
<circle cx="173.18200000000002" cy="362.3" r="2.3" fill="#fff" stroke="#000" stroke-width="1.1"/>
<circle cx="198.322" cy="415.2" r="2.3" fill="#fff" stroke="#000" stroke-width="1.1"/>
<circle cx="223.462" cy="427" r="2.3" fill="#fff" stroke="#000" stroke-width="1.1"/>
<circle cx="248.602" cy="425" r="2.3" fill="#fff" stroke="#000" stroke-width="1.1"/>
<path d="M94.562,321.8 L97.762,318.6 L100.962,321.8 L97.762,325.0 Z" fill="#000"/>
<path d="M119.702,330.5 L122.902,327.3 L126.102,330.5 L122.902,333.7 Z" fill="#000"/>
<path d="M144.842,333.5 L148.042,330.3 L151.242,333.5 L148.042,336.7 Z" fill="#000"/>
<path d="M169.98200000000003,405.5 L173.18200000000002,402.3 L176.382,405.5 L173.18200000000002,408.7 Z" fill="#000"/>
<path d="M195.122,421 L198.322,417.8 L201.522,421 L198.322,424.2 Z" fill="#000"/>
<path d="M220.262,426.7 L223.462,423.5 L226.66199999999998,426.7 L223.462,429.9 Z" fill="#000"/>
<path d="M245.40200000000002,425.5 L248.602,422.3 L251.802,425.5 L248.602,428.7 Z" fill="#000"/>
<rect x="95.2" y="306.9" width="5.2" height="5.2" fill="#000"/>
<rect x="120.3" y="330.3" width="5.2" height="5.2" fill="#000"/>
<rect x="145.4" y="339.0" width="5.2" height="5.2" fill="#000"/>
<rect x="170.6" y="409.4" width="5.2" height="5.2" fill="#000"/>
<rect x="195.7" y="417.7" width="5.2" height="5.2" fill="#000"/>
<rect x="220.9" y="422.4" width="5.2" height="5.2" fill="#000"/>
<rect x="246.0" y="420.9" width="5.2" height="5.2" fill="#000"/>
<line x1="261.4" y1="330.7" x2="275.7" y2="330.7" stroke="#000" stroke-width="1.2"/>
<rect x="266.3" y="328.0" width="5.4" height="5.4" fill="#000"/>
<line x1="261.4" y1="346.4" x2="275.7" y2="346.4" stroke="#000" stroke-width="1.2"/>
<path d="M266.2,346.4 L269,343.59999999999997 L271.8,346.4 L269,349.2 Z" fill="#000"/>
<line x1="261.4" y1="364.3" x2="275.7" y2="364.3" stroke="#000" stroke-width="1.2"/>
<circle cx="269" cy="364.3" r="2.4" fill="none" stroke="#000" stroke-width="1.2"/>
<text x="284.2" y="334.3" font-family="&quot;Liberation Sans&quot;, sans-serif" font-size="10" fill="#000" text-anchor="start" font-weight="normal" >2</text>
<text x="284.2" y="350" font-family="&quot;Liberation Sans&quot;, sans-serif" font-size="10" fill="#000" text-anchor="start" font-weight="normal" >3</text>
<text x="284.2" y="367.6" font-family="&quot;Liberation Sans&quot;, sans-serif" font-size="10" fill="#000" text-anchor="start" font-weight="normal" >4</text>
</svg>
</body></html>
